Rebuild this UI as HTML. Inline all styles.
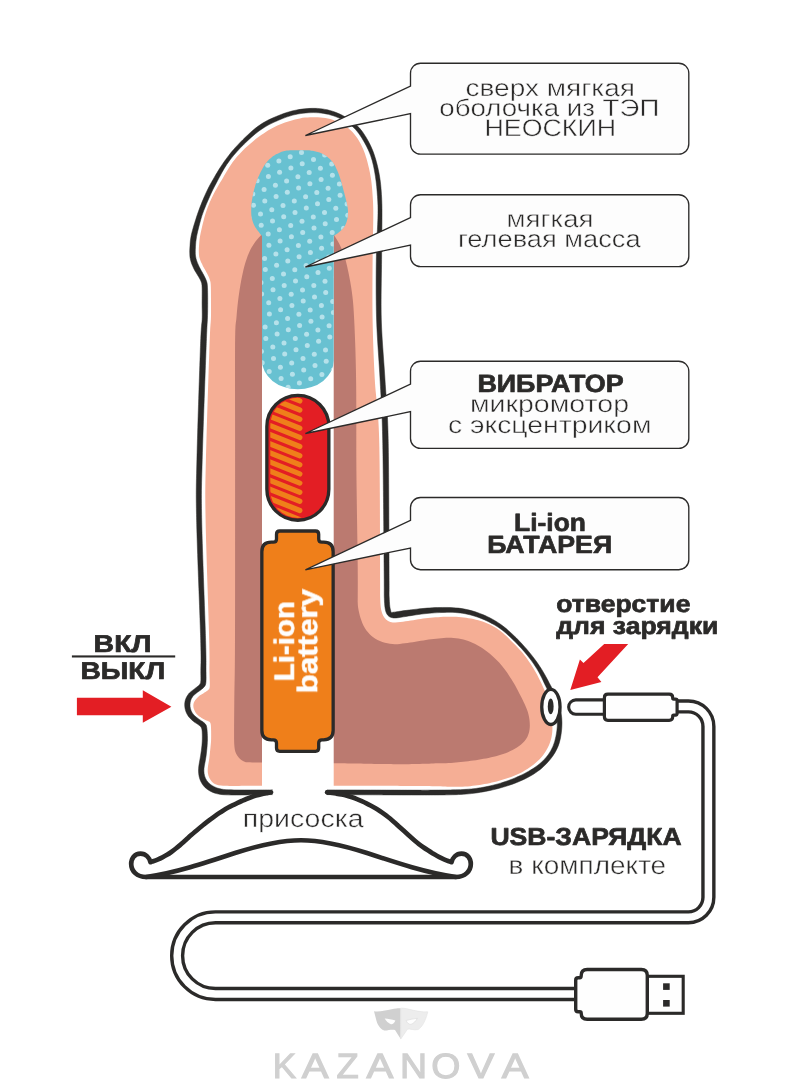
<!DOCTYPE html>
<html><head><meta charset="utf-8"><title>diagram</title>
<style>
html,body{margin:0;padding:0;background:#FFFFFF;}
body{width:802px;height:1080px;overflow:hidden;}
svg{display:block;font-family:"Liberation Sans",sans-serif;}
text{text-rendering:geometricPrecision;will-change:transform;}
</style></head><body>
<svg width="802" height="1080" viewBox="0 0 802 1080">
<defs>
<clipPath id="tealclip"><path d="M 262.00 236.00 C 261.82 235.79 261.34 235.25 260.92 234.75 C 260.51 234.25 259.97 233.59 259.51 233.02 C 259.06 232.45 258.62 231.87 258.20 231.31 C 257.78 230.76 257.40 230.24 257.00 229.68 C 256.60 229.12 256.20 228.56 255.82 227.97 C 255.44 227.38 255.07 226.79 254.72 226.17 C 254.38 225.54 254.06 224.90 253.76 224.22 C 253.46 223.55 253.18 222.84 252.93 222.13 C 252.68 221.42 252.45 220.69 252.26 219.97 C 252.06 219.25 251.89 218.53 251.75 217.83 C 251.61 217.12 251.50 216.44 251.42 215.75 C 251.34 215.06 251.29 214.38 251.25 213.67 C 251.22 212.97 251.21 212.22 251.20 211.52 C 251.20 210.81 251.21 210.10 251.23 209.43 C 251.24 208.75 251.26 208.13 251.29 207.46 C 251.32 206.80 251.35 206.13 251.40 205.44 C 251.45 204.75 251.51 204.03 251.58 203.31 C 251.66 202.58 251.75 201.82 251.84 201.10 C 251.94 200.38 252.05 199.67 252.17 198.98 C 252.28 198.28 252.40 197.63 252.53 196.94 C 252.66 196.25 252.79 195.55 252.94 194.85 C 253.08 194.14 253.24 193.42 253.40 192.71 C 253.56 191.99 253.73 191.27 253.90 190.56 C 254.08 189.85 254.26 189.14 254.44 188.45 C 254.63 187.75 254.82 187.07 255.02 186.38 C 255.23 185.69 255.44 184.99 255.66 184.30 C 255.88 183.62 256.11 182.92 256.35 182.24 C 256.59 181.56 256.83 180.89 257.08 180.22 C 257.33 179.56 257.59 178.90 257.85 178.24 C 258.12 177.59 258.39 176.95 258.66 176.31 C 258.94 175.67 259.22 175.04 259.51 174.41 C 259.80 173.78 260.09 173.16 260.39 172.54 C 260.69 171.92 261.00 171.30 261.31 170.69 C 261.63 170.09 261.95 169.48 262.27 168.89 C 262.60 168.30 262.93 167.72 263.28 167.15 C 263.62 166.58 263.96 166.04 264.33 165.48 C 264.69 164.93 265.07 164.40 265.47 163.85 C 265.88 163.30 266.32 162.73 266.77 162.18 C 267.22 161.63 267.68 161.08 268.16 160.56 C 268.64 160.04 269.13 159.54 269.64 159.05 C 270.15 158.56 270.67 158.09 271.22 157.64 C 271.76 157.19 272.33 156.76 272.91 156.35 C 273.49 155.94 274.08 155.56 274.69 155.18 C 275.31 154.81 275.95 154.45 276.60 154.11 C 277.25 153.77 277.92 153.43 278.59 153.13 C 279.25 152.82 279.91 152.53 280.57 152.26 C 281.23 152.00 281.86 151.75 282.53 151.53 C 283.20 151.32 283.89 151.11 284.59 150.96 C 285.30 150.80 286.05 150.67 286.77 150.58 C 287.48 150.49 288.19 150.46 288.90 150.42 C 289.60 150.37 290.28 150.36 291.00 150.33 C 291.71 150.31 292.45 150.28 293.19 150.26 C 293.93 150.23 294.71 150.21 295.46 150.20 C 296.21 150.19 296.97 150.19 297.70 150.19 C 298.44 150.19 299.17 150.20 299.88 150.20 C 300.59 150.20 301.29 150.20 301.98 150.20 C 302.67 150.20 303.34 150.20 304.01 150.22 C 304.69 150.23 305.35 150.24 306.03 150.27 C 306.71 150.29 307.40 150.31 308.11 150.35 C 308.81 150.39 309.53 150.42 310.26 150.49 C 310.99 150.56 311.77 150.66 312.50 150.78 C 313.23 150.90 313.95 151.06 314.64 151.21 C 315.33 151.37 315.96 151.53 316.63 151.70 C 317.30 151.88 317.99 152.07 318.67 152.28 C 319.36 152.50 320.08 152.74 320.76 153.01 C 321.44 153.28 322.13 153.58 322.76 153.90 C 323.39 154.22 323.99 154.56 324.56 154.92 C 325.13 155.27 325.65 155.63 326.19 156.02 C 326.72 156.41 327.24 156.81 327.76 157.24 C 328.28 157.67 328.79 158.11 329.29 158.58 C 329.79 159.05 330.29 159.54 330.76 160.04 C 331.23 160.54 331.69 161.07 332.12 161.59 C 332.54 162.12 332.95 162.66 333.33 163.20 C 333.71 163.75 334.06 164.29 334.40 164.86 C 334.74 165.43 335.06 166.01 335.38 166.61 C 335.69 167.21 335.99 167.83 336.29 168.45 C 336.59 169.08 336.87 169.72 337.15 170.37 C 337.44 171.03 337.71 171.70 337.98 172.36 C 338.25 173.02 338.52 173.69 338.76 174.34 C 339.01 174.99 339.24 175.62 339.47 176.27 C 339.70 176.91 339.91 177.55 340.12 178.21 C 340.33 178.86 340.54 179.53 340.74 180.20 C 340.94 180.87 341.14 181.56 341.33 182.24 C 341.53 182.92 341.72 183.61 341.91 184.30 C 342.10 184.98 342.29 185.67 342.47 186.35 C 342.66 187.03 342.84 187.71 343.03 188.39 C 343.21 189.07 343.39 189.74 343.58 190.43 C 343.76 191.12 343.95 191.82 344.13 192.52 C 344.32 193.22 344.51 193.94 344.69 194.65 C 344.87 195.36 345.05 196.07 345.23 196.77 C 345.40 197.48 345.58 198.17 345.74 198.85 C 345.91 199.52 346.06 200.18 346.21 200.82 C 346.36 201.45 346.50 202.03 346.64 202.66 C 346.78 203.29 346.91 203.92 347.06 204.60 C 347.20 205.29 347.36 206.09 347.49 206.80 C 347.61 207.50 347.73 208.18 347.80 208.84 C 347.88 209.51 347.92 210.12 347.95 210.77 C 347.98 211.43 347.98 212.09 347.97 212.75 C 347.96 213.42 347.93 214.09 347.89 214.76 C 347.84 215.44 347.79 216.13 347.71 216.81 C 347.62 217.49 347.53 218.18 347.40 218.85 C 347.27 219.52 347.12 220.17 346.93 220.83 C 346.75 221.49 346.52 222.16 346.27 222.82 C 346.02 223.47 345.73 224.13 345.42 224.75 C 345.11 225.38 344.78 225.99 344.40 226.59 C 344.03 227.18 343.64 227.75 343.17 228.32 C 342.71 228.88 342.17 229.45 341.62 229.99 C 341.06 230.52 340.44 231.04 339.84 231.53 C 339.25 232.01 338.66 232.46 338.05 232.92 C 337.44 233.38 336.81 233.85 336.19 234.30 C 335.57 234.74 334.73 235.31 334.32 235.60 C 333.90 235.88 333.80 235.93 333.70 236.00 L 333.7 360.6 A 35.85 28.7 0 0 1 262 360.6 Z"/></clipPath>
<clipPath id="capclip"><rect x="270.3" y="397.8" width="55" height="120.1" rx="27.5"/></clipPath>
</defs>
<rect width="802" height="1080" fill="#FFFFFF"/>

<path d="M 333.70 785.70 C 333.20 785.70 331.82 785.70 330.68 785.70 C 329.55 785.70 328.23 785.70 326.88 785.70 C 325.53 785.70 324.09 785.70 322.56 785.70 C 321.04 785.70 319.41 785.70 317.72 785.70 C 316.03 785.70 314.25 785.70 312.44 785.70 C 310.63 785.70 308.74 785.70 306.83 785.70 C 304.93 785.70 302.97 785.70 301.01 785.70 C 299.05 785.70 297.05 785.70 295.07 785.70 C 293.09 785.70 291.09 785.70 289.12 785.70 C 287.15 785.70 285.19 785.70 283.27 785.70 C 281.36 785.70 279.46 785.70 277.63 785.70 C 275.80 785.70 274.02 785.70 272.30 785.70 C 270.58 785.70 268.99 785.70 267.33 785.70 C 265.66 785.70 264.12 785.70 262.32 785.70 C 260.52 785.71 258.54 785.71 256.55 785.72 C 254.56 785.73 252.38 785.75 250.36 785.77 C 248.34 785.78 246.33 785.81 244.43 785.83 C 242.52 785.85 240.69 785.87 238.94 785.88 C 237.18 785.90 235.51 785.92 233.91 785.92 C 232.32 785.93 230.82 785.94 229.38 785.92 C 227.93 785.91 226.66 785.92 225.26 785.86 C 223.85 785.79 222.48 785.78 220.95 785.53 C 219.41 785.29 217.53 784.99 216.06 784.38 C 214.58 783.77 213.22 782.94 212.11 781.88 C 211.00 780.82 210.08 779.47 209.38 778.02 C 208.68 776.58 208.17 774.88 207.91 773.22 C 207.65 771.57 207.70 769.79 207.80 768.09 C 207.91 766.39 208.28 764.71 208.54 763.03 C 208.79 761.34 209.11 759.66 209.34 757.97 C 209.57 756.27 209.74 754.56 209.92 752.85 C 210.10 751.14 210.27 749.44 210.44 747.70 C 210.61 745.96 210.84 743.67 210.95 742.41 C 211.05 741.16 211.05 740.89 211.08 740.16 C 211.11 739.43 211.12 738.75 211.13 738.04 C 211.14 737.33 211.15 736.62 211.15 735.88 C 211.15 735.13 211.15 734.35 211.14 733.58 C 211.14 732.81 211.13 732.01 211.11 731.25 C 211.10 730.49 211.08 729.73 211.06 729.02 C 211.03 728.31 211.01 727.62 210.97 727.00 C 210.94 726.37 210.96 725.94 210.85 725.28 C 210.75 724.61 210.67 723.61 210.36 723.00 C 210.06 722.39 209.53 721.98 209.02 721.61 C 208.52 721.23 207.94 721.03 207.32 720.74 C 206.70 720.46 205.94 720.20 205.28 719.90 C 204.63 719.60 203.99 719.27 203.37 718.94 C 202.76 718.62 202.19 718.30 201.60 717.95 C 201.00 717.59 200.37 717.22 199.81 716.83 C 199.24 716.43 198.71 716.03 198.19 715.56 C 197.67 715.08 197.15 714.52 196.69 713.96 C 196.23 713.40 195.79 712.79 195.41 712.19 C 195.03 711.58 194.70 711.00 194.41 710.35 C 194.12 709.70 193.85 708.98 193.67 708.29 C 193.50 707.60 193.38 706.91 193.34 706.20 C 193.31 705.49 193.34 704.77 193.48 704.04 C 193.63 703.31 193.92 702.50 194.23 701.81 C 194.54 701.13 194.94 700.51 195.33 699.95 C 195.73 699.38 196.13 698.91 196.59 698.41 C 197.05 697.90 197.57 697.38 198.09 696.92 C 198.61 696.46 199.14 696.03 199.70 695.62 C 200.26 695.22 200.85 694.87 201.44 694.50 C 202.04 694.14 202.67 693.79 203.25 693.43 C 203.84 693.07 204.36 692.75 204.96 692.36 C 205.55 691.96 206.24 691.51 206.81 691.09 C 207.38 690.66 207.94 690.23 208.37 689.79 C 208.80 689.34 209.16 688.94 209.39 688.41 C 209.62 687.88 209.68 687.27 209.75 686.60 C 209.82 685.93 209.80 684.98 209.80 684.37 C 209.81 683.76 209.80 683.43 209.79 682.92 C 209.78 682.41 209.76 681.90 209.75 681.34 C 209.73 680.78 209.70 680.19 209.68 679.56 C 209.66 678.93 209.63 678.27 209.60 677.56 C 209.58 676.85 209.55 676.10 209.53 675.30 C 209.50 674.51 209.48 673.61 209.46 672.79 C 209.44 671.98 209.42 671.09 209.41 670.42 C 209.40 669.74 209.40 669.23 209.39 668.74 C 209.39 668.26 209.39 668.14 209.39 667.50 C 209.40 666.86 209.42 665.83 209.43 664.92 C 209.45 664.01 209.48 663.23 209.49 662.05 C 209.50 660.87 209.51 659.62 209.50 657.83 C 209.49 656.04 209.46 653.69 209.43 651.31 C 209.39 648.94 209.32 645.85 209.28 643.59 C 209.23 641.33 209.18 639.42 209.14 637.76 C 209.10 636.10 209.06 634.99 209.02 633.64 C 208.99 632.29 208.95 631.02 208.91 629.63 C 208.87 628.25 208.82 626.81 208.78 625.32 C 208.73 623.84 208.68 622.30 208.63 620.72 C 208.58 619.14 208.53 617.51 208.48 615.85 C 208.42 614.19 208.37 612.49 208.31 610.76 C 208.26 609.03 208.20 607.26 208.14 605.47 C 208.08 603.68 208.02 601.86 207.96 600.02 C 207.90 598.18 207.84 596.32 207.78 594.44 C 207.72 592.57 207.66 590.67 207.59 588.76 C 207.53 586.86 207.47 584.94 207.41 583.02 C 207.34 581.10 207.28 579.17 207.22 577.24 C 207.16 575.32 207.09 573.39 207.03 571.47 C 206.97 569.55 206.91 567.63 206.85 565.72 C 206.79 563.82 206.73 561.92 206.67 560.05 C 206.62 558.17 206.56 556.30 206.50 554.47 C 206.45 552.63 206.39 550.81 206.34 549.02 C 206.29 547.23 206.24 545.46 206.19 543.73 C 206.14 542.00 206.09 540.29 206.04 538.64 C 206.00 536.98 205.96 535.35 205.92 533.77 C 205.87 532.19 205.84 530.66 205.80 529.17 C 205.76 527.67 205.73 526.29 205.70 524.78 C 205.67 523.27 205.64 521.82 205.61 520.11 C 205.57 518.39 205.54 516.38 205.50 514.46 C 205.47 512.54 205.44 510.44 205.41 508.59 C 205.38 506.74 205.36 504.98 205.34 503.35 C 205.32 501.71 205.31 500.22 205.30 498.76 C 205.29 497.31 205.28 495.97 205.28 494.64 C 205.28 493.31 205.28 492.05 205.29 490.76 C 205.30 489.48 205.31 488.24 205.33 486.93 C 205.34 485.62 205.36 484.33 205.39 482.93 C 205.41 481.53 205.44 480.11 205.47 478.55 C 205.51 477.00 205.54 475.37 205.58 473.60 C 205.62 471.83 205.67 469.86 205.72 467.93 C 205.76 466.01 205.81 463.86 205.85 462.04 C 205.90 460.22 205.93 458.57 205.97 456.99 C 206.01 455.41 206.05 454.07 206.08 452.57 C 206.12 451.08 206.16 449.60 206.20 448.04 C 206.25 446.48 206.29 444.88 206.34 443.23 C 206.38 441.59 206.43 439.89 206.48 438.17 C 206.53 436.45 206.58 434.69 206.64 432.90 C 206.69 431.11 206.74 429.29 206.80 427.44 C 206.86 425.60 206.91 423.73 206.97 421.84 C 207.03 419.96 207.09 418.05 207.15 416.13 C 207.21 414.21 207.27 412.28 207.33 410.34 C 207.39 408.41 207.45 406.46 207.52 404.51 C 207.58 402.57 207.64 400.62 207.71 398.68 C 207.77 396.74 207.83 394.79 207.90 392.87 C 207.96 390.94 208.02 389.02 208.09 387.12 C 208.15 385.22 208.21 383.33 208.27 381.47 C 208.34 379.61 208.40 377.77 208.46 375.95 C 208.52 374.14 208.58 372.35 208.64 370.60 C 208.70 368.85 208.76 367.13 208.81 365.45 C 208.87 363.78 208.93 362.13 208.98 360.54 C 209.04 358.95 209.09 357.39 209.14 355.90 C 209.19 354.40 209.24 352.95 209.29 351.56 C 209.34 350.17 209.39 348.87 209.43 347.56 C 209.48 346.25 209.51 345.21 209.57 343.70 C 209.63 342.18 209.68 340.59 209.77 338.47 C 209.86 336.36 209.99 333.21 210.10 331.00 C 210.21 328.79 210.34 326.61 210.44 325.18 C 210.54 323.75 210.61 323.31 210.68 322.41 C 210.75 321.52 210.81 320.93 210.86 319.83 C 210.91 318.73 210.96 317.27 210.99 315.80 C 211.02 314.33 211.02 312.47 211.03 311.03 C 211.03 309.58 211.02 308.12 211.01 307.13 C 211.01 306.13 211.00 305.76 211.00 305.08 C 211.00 304.40 211.00 303.74 211.00 303.06 C 210.99 302.38 210.99 301.70 210.99 300.99 C 210.99 300.28 210.99 299.55 210.98 298.81 C 210.98 298.08 210.98 297.32 210.97 296.58 C 210.97 295.83 210.96 295.07 210.96 294.34 C 210.95 293.61 210.94 292.87 210.94 292.17 C 210.93 291.46 210.92 290.77 210.91 290.12 C 210.90 289.46 210.89 288.84 210.87 288.25 C 210.86 287.66 210.85 287.26 210.82 286.60 C 210.80 285.93 210.76 285.02 210.71 284.28 C 210.65 283.53 210.58 282.74 210.49 282.14 C 210.39 281.54 210.29 281.23 210.14 280.70 C 209.98 280.16 209.79 279.54 209.57 278.93 C 209.35 278.32 209.10 277.68 208.81 277.03 C 208.52 276.37 208.17 275.67 207.85 275.01 C 207.53 274.35 207.19 273.69 206.86 273.07 C 206.53 272.45 206.22 271.88 205.88 271.27 C 205.53 270.65 205.16 270.00 204.80 269.37 C 204.45 268.74 204.09 268.11 203.75 267.48 C 203.41 266.86 203.10 266.28 202.78 265.63 C 202.45 264.99 202.11 264.29 201.79 263.62 C 201.48 262.96 201.17 262.30 200.90 261.65 C 200.62 261.01 200.37 260.40 200.14 259.77 C 199.91 259.14 199.70 258.51 199.52 257.86 C 199.35 257.21 199.22 257.04 199.10 255.89 C 198.98 254.74 198.82 252.62 198.81 250.94 C 198.80 249.26 198.93 247.48 199.03 245.80 C 199.13 244.12 199.20 242.59 199.39 240.88 C 199.58 239.16 199.86 237.28 200.17 235.53 C 200.47 233.78 200.84 232.12 201.22 230.38 C 201.61 228.64 202.04 226.85 202.47 225.08 C 202.90 223.30 203.35 221.49 203.82 219.74 C 204.28 218.00 204.75 216.29 205.27 214.59 C 205.79 212.89 206.35 211.18 206.93 209.54 C 207.51 207.90 208.12 206.34 208.76 204.77 C 209.40 203.20 210.07 201.66 210.76 200.12 C 211.45 198.57 212.18 197.01 212.92 195.49 C 213.67 193.97 214.44 192.46 215.24 190.99 C 216.03 189.51 216.85 188.10 217.69 186.66 C 218.53 185.22 219.40 183.81 220.27 182.35 C 221.14 180.89 222.03 179.40 222.92 177.88 C 223.80 176.37 224.69 174.79 225.60 173.25 C 226.50 171.71 227.40 170.14 228.34 168.64 C 229.28 167.13 230.24 165.65 231.24 164.22 C 232.24 162.78 233.26 161.41 234.32 160.05 C 235.38 158.69 236.46 157.39 237.60 156.07 C 238.75 154.75 239.95 153.42 241.19 152.13 C 242.43 150.83 243.72 149.55 245.03 148.30 C 246.35 147.05 247.72 145.83 249.08 144.64 C 250.45 143.45 251.85 142.29 253.23 141.16 C 254.62 140.03 256.01 138.92 257.40 137.86 C 258.79 136.79 260.17 135.76 261.57 134.77 C 262.97 133.78 264.35 132.83 265.80 131.91 C 267.24 131.00 268.71 130.11 270.24 129.26 C 271.76 128.41 273.35 127.60 274.97 126.82 C 276.58 126.04 278.25 125.29 279.91 124.59 C 281.58 123.89 283.28 123.23 284.96 122.62 C 286.64 122.01 288.32 121.46 289.99 120.95 C 291.67 120.44 293.33 119.98 294.99 119.55 C 296.66 119.13 298.32 118.72 299.99 118.39 C 301.66 118.06 303.33 117.76 305.02 117.56 C 306.71 117.36 308.41 117.24 310.12 117.17 C 311.83 117.11 313.56 117.12 315.27 117.16 C 316.98 117.20 318.68 117.28 320.37 117.42 C 322.06 117.57 323.75 117.74 325.39 118.02 C 327.04 118.30 328.66 118.65 330.26 119.10 C 331.86 119.56 333.43 120.12 335.00 120.74 C 336.57 121.36 338.13 122.07 339.69 122.84 C 341.25 123.61 342.84 124.42 344.34 125.36 C 345.84 126.29 347.35 127.33 348.71 128.45 C 350.06 129.56 351.28 130.77 352.45 132.03 C 353.61 133.30 354.67 134.66 355.70 136.04 C 356.73 137.42 357.71 138.87 358.61 140.32 C 359.51 141.76 360.35 143.22 361.12 144.69 C 361.89 146.17 362.56 147.64 363.20 149.16 C 363.84 150.68 364.41 152.24 364.96 153.82 C 365.50 155.39 366.01 157.00 366.48 158.60 C 366.96 160.19 367.39 161.77 367.81 163.39 C 368.23 165.01 368.62 166.65 368.99 168.31 C 369.36 169.96 369.72 171.64 370.03 173.32 C 370.35 175.00 370.64 176.68 370.90 178.37 C 371.16 180.06 371.38 181.77 371.58 183.47 C 371.78 185.18 371.94 186.90 372.09 188.60 C 372.24 190.29 372.36 192.00 372.48 193.63 C 372.60 195.26 372.71 196.86 372.81 198.38 C 372.90 199.90 372.99 201.24 373.06 202.76 C 373.12 204.27 373.18 205.78 373.21 207.47 C 373.25 209.16 373.27 211.16 373.28 212.88 C 373.29 214.61 373.28 216.29 373.27 217.83 C 373.26 219.38 373.24 220.69 373.22 222.16 C 373.20 223.63 373.18 225.09 373.15 226.64 C 373.12 228.18 373.09 229.79 373.06 231.44 C 373.02 233.09 372.99 234.79 372.96 236.53 C 372.92 238.27 372.89 240.06 372.85 241.87 C 372.82 243.68 372.79 245.53 372.76 247.40 C 372.73 249.26 372.70 251.19 372.68 253.04 C 372.65 254.90 372.63 256.79 372.62 258.54 C 372.60 260.29 372.59 261.91 372.58 263.53 C 372.56 265.14 372.55 266.65 372.54 268.23 C 372.53 269.82 372.52 271.40 372.51 273.01 C 372.50 274.63 372.48 276.27 372.47 277.93 C 372.46 279.58 372.45 281.26 372.45 282.95 C 372.44 284.63 372.43 286.34 372.43 288.05 C 372.42 289.76 372.42 291.49 372.41 293.21 C 372.41 294.94 372.41 296.67 372.41 298.40 C 372.42 300.14 372.42 301.87 372.43 303.60 C 372.44 305.33 372.45 307.06 372.46 308.78 C 372.48 310.50 372.49 312.21 372.51 313.91 C 372.54 315.61 372.56 317.30 372.59 318.98 C 372.62 320.66 372.65 322.33 372.68 324.00 C 372.72 325.67 372.75 327.33 372.79 329.00 C 372.83 330.67 372.88 332.33 372.92 334.00 C 372.97 335.67 373.01 337.33 373.06 339.00 C 373.11 340.67 373.17 342.33 373.22 344.00 C 373.28 345.67 373.33 347.33 373.39 349.00 C 373.45 350.67 373.52 352.33 373.58 354.00 C 373.65 355.67 373.71 357.33 373.78 359.00 C 373.85 360.67 373.93 362.33 374.00 364.00 C 374.08 365.67 374.16 367.33 374.24 369.00 C 374.32 370.67 374.40 372.34 374.49 374.00 C 374.57 375.65 374.66 377.33 374.75 378.95 C 374.85 380.57 374.95 382.18 375.05 383.71 C 375.16 385.24 375.27 386.71 375.39 388.14 C 375.50 389.57 375.63 390.93 375.76 392.28 C 375.89 393.63 376.02 394.93 376.16 396.25 C 376.29 397.57 376.43 398.86 376.57 400.19 C 376.71 401.53 376.85 402.86 377.00 404.25 C 377.14 405.64 377.28 407.06 377.42 408.56 C 377.55 410.06 377.69 411.60 377.82 413.25 C 377.96 414.90 378.09 416.62 378.21 418.47 C 378.33 420.32 378.45 422.28 378.56 424.36 C 378.67 426.44 378.78 428.75 378.87 430.95 C 378.96 433.14 379.05 435.56 379.11 437.54 C 379.18 439.51 379.22 441.20 379.26 442.79 C 379.30 444.38 379.33 445.64 379.36 447.08 C 379.38 448.51 379.41 449.92 379.43 451.41 C 379.46 452.90 379.48 454.44 379.50 456.02 C 379.53 457.60 379.55 459.23 379.57 460.89 C 379.59 462.55 379.61 464.25 379.63 465.98 C 379.65 467.71 379.66 469.48 379.68 471.28 C 379.70 473.07 379.71 474.90 379.73 476.75 C 379.74 478.60 379.76 480.47 379.77 482.36 C 379.78 484.25 379.80 486.17 379.81 488.09 C 379.82 490.02 379.83 491.96 379.84 493.91 C 379.85 495.86 379.86 497.83 379.87 499.79 C 379.88 501.76 379.89 503.74 379.90 505.71 C 379.91 507.68 379.91 509.66 379.92 511.63 C 379.93 513.60 379.93 515.57 379.94 517.52 C 379.95 519.48 379.95 521.43 379.96 523.37 C 379.96 525.30 379.97 527.23 379.97 529.13 C 379.98 531.04 379.98 532.93 379.99 534.79 C 379.99 536.66 379.99 538.50 380.00 540.31 C 380.00 542.13 380.00 543.92 380.01 545.67 C 380.01 547.43 380.01 549.16 380.02 550.84 C 380.02 552.53 380.02 554.18 380.03 555.79 C 380.03 557.40 380.03 558.97 380.04 560.49 C 380.04 562.01 380.04 563.49 380.05 564.92 C 380.05 566.34 380.05 567.72 380.06 569.04 C 380.06 570.36 380.07 571.57 380.07 572.84 C 380.07 574.10 380.08 575.04 380.08 576.63 C 380.09 578.22 380.10 580.12 380.10 582.36 C 380.11 584.60 380.12 588.09 380.11 590.06 C 380.11 592.03 380.10 593.13 380.10 594.16 C 380.10 595.20 380.11 595.24 380.13 596.25 C 380.16 597.27 380.19 598.76 380.26 600.26 C 380.33 601.77 380.38 603.60 380.54 605.28 C 380.71 606.95 380.87 608.66 381.27 610.32 C 381.67 611.99 382.15 613.75 382.94 615.28 C 383.73 616.81 384.77 618.37 386.01 619.49 C 387.25 620.62 388.83 621.53 390.37 622.05 C 391.91 622.56 393.60 622.57 395.26 622.58 C 396.93 622.59 398.65 622.30 400.37 622.09 C 402.09 621.89 403.86 621.61 405.57 621.36 C 407.28 621.10 408.95 620.83 410.64 620.56 C 412.33 620.29 414.03 620.01 415.70 619.75 C 417.38 619.48 419.05 619.23 420.69 618.99 C 422.33 618.75 423.91 618.52 425.54 618.31 C 427.17 618.10 428.80 617.90 430.46 617.73 C 432.13 617.56 433.83 617.41 435.53 617.28 C 437.23 617.15 438.93 617.05 440.66 616.95 C 442.39 616.86 444.16 616.78 445.90 616.72 C 447.64 616.67 449.39 616.62 451.11 616.63 C 452.82 616.63 454.52 616.66 456.20 616.74 C 457.89 616.82 459.58 616.96 461.23 617.13 C 462.88 617.30 464.47 617.53 466.08 617.78 C 467.70 618.02 469.31 618.31 470.94 618.62 C 472.58 618.94 474.24 619.26 475.90 619.65 C 477.55 620.04 479.23 620.46 480.87 620.97 C 482.50 621.47 484.12 622.05 485.70 622.69 C 487.29 623.33 488.83 624.05 490.36 624.82 C 491.88 625.58 493.39 626.41 494.84 627.28 C 496.29 628.14 497.71 629.04 499.07 629.99 C 500.42 630.95 501.71 631.95 502.96 633.01 C 504.22 634.08 505.39 635.21 506.59 636.36 C 507.79 637.52 508.97 638.74 510.17 639.93 C 511.36 641.13 512.54 642.31 513.74 643.53 C 514.95 644.74 516.17 645.96 517.37 647.23 C 518.58 648.49 519.80 649.80 520.97 651.12 C 522.14 652.44 523.28 653.80 524.38 655.17 C 525.47 656.55 526.53 657.96 527.56 659.39 C 528.59 660.82 529.59 662.28 530.55 663.75 C 531.52 665.22 532.46 666.69 533.37 668.19 C 534.27 669.68 535.16 671.19 536.01 672.72 C 536.86 674.25 537.68 675.83 538.47 677.38 C 539.26 678.93 540.00 680.48 540.74 682.02 C 541.47 683.56 542.17 685.07 542.89 686.63 C 543.60 688.19 544.35 689.79 545.04 691.37 C 545.73 692.96 546.42 694.56 547.02 696.15 C 547.63 697.75 548.18 699.33 548.67 700.94 C 549.16 702.55 549.58 704.15 549.96 705.80 C 550.34 707.45 550.66 709.12 550.95 710.82 C 551.23 712.51 551.47 714.24 551.67 715.97 C 551.88 717.71 552.05 719.47 552.17 721.22 C 552.30 722.97 552.41 724.74 552.43 726.47 C 552.45 728.20 552.43 729.91 552.30 731.61 C 552.16 733.31 551.94 735.02 551.61 736.67 C 551.28 738.32 550.84 739.92 550.32 741.52 C 549.79 743.11 549.18 744.69 548.47 746.25 C 547.75 747.81 546.95 749.38 546.05 750.87 C 545.15 752.37 544.14 753.83 543.07 755.21 C 542.00 756.59 540.84 757.89 539.62 759.16 C 538.40 760.43 537.08 761.65 535.75 762.81 C 534.43 763.96 533.06 765.06 531.66 766.10 C 530.27 767.14 528.86 768.10 527.39 769.03 C 525.92 769.96 524.39 770.85 522.86 771.67 C 521.33 772.50 519.77 773.26 518.23 773.97 C 516.68 774.68 515.16 775.31 513.59 775.94 C 512.02 776.56 510.41 777.15 508.80 777.71 C 507.19 778.28 505.54 778.82 503.92 779.33 C 502.30 779.84 500.70 780.31 499.10 780.76 C 497.50 781.21 495.92 781.63 494.31 782.02 C 492.71 782.42 491.08 782.79 489.45 783.13 C 487.82 783.48 486.14 783.80 484.52 784.10 C 482.90 784.39 481.30 784.66 479.74 784.91 C 478.17 785.16 476.71 785.39 475.14 785.59 C 473.58 785.80 472.03 785.98 470.34 786.14 C 468.66 786.30 466.79 786.44 465.04 786.54 C 463.28 786.64 461.41 786.71 459.81 786.76 C 458.21 786.81 456.83 786.81 455.45 786.82 C 454.06 786.82 452.83 786.80 451.48 786.77 C 450.14 786.75 448.80 786.71 447.38 786.67 C 445.95 786.63 444.48 786.58 442.91 786.53 C 441.33 786.48 439.69 786.42 437.90 786.37 C 436.12 786.32 434.21 786.26 432.21 786.22 C 430.21 786.17 427.95 786.12 425.91 786.09 C 423.87 786.05 421.77 786.03 419.97 786.01 C 418.17 785.99 416.69 785.98 415.11 785.97 C 413.52 785.95 412.07 785.95 410.46 785.94 C 408.86 785.93 407.19 785.92 405.47 785.91 C 403.75 785.90 401.95 785.89 400.12 785.89 C 398.30 785.88 396.41 785.87 394.50 785.86 C 392.59 785.86 390.64 785.85 388.68 785.84 C 386.72 785.84 384.73 785.83 382.74 785.82 C 380.75 785.82 378.75 785.81 376.76 785.81 C 374.77 785.80 372.78 785.80 370.81 785.79 C 368.85 785.79 366.89 785.78 364.98 785.78 C 363.07 785.77 361.18 785.77 359.34 785.76 C 357.51 785.76 355.70 785.75 353.97 785.75 C 352.24 785.75 350.56 785.74 348.95 785.74 C 347.35 785.74 345.81 785.73 344.36 785.73 C 342.91 785.72 341.56 785.72 340.27 785.72 C 338.98 785.72 337.73 785.71 336.64 785.71 C 335.54 785.71 334.19 785.70 333.70 785.70 Z" fill="#F5AE95"/>
<path d="M 264.00 232.00 C 263.48 232.60 261.96 234.37 260.86 235.59 C 259.75 236.81 258.50 238.02 257.38 239.32 C 256.25 240.62 255.12 241.98 254.12 243.38 C 253.13 244.79 252.24 246.24 251.42 247.74 C 250.59 249.25 249.85 250.83 249.15 252.40 C 248.45 253.98 247.82 255.58 247.22 257.18 C 246.63 258.78 246.11 260.36 245.60 262.00 C 245.09 263.65 244.62 265.34 244.17 267.04 C 243.73 268.73 243.31 270.45 242.93 272.16 C 242.54 273.87 242.19 275.56 241.84 277.29 C 241.50 279.01 241.17 280.78 240.85 282.52 C 240.54 284.27 240.24 286.02 239.96 287.76 C 239.67 289.49 239.40 291.23 239.15 292.95 C 238.90 294.68 238.66 296.41 238.44 298.10 C 238.22 299.79 238.02 301.45 237.83 303.09 C 237.64 304.72 237.46 306.32 237.30 307.94 C 237.13 309.55 236.98 311.20 236.84 312.77 C 236.70 314.35 236.58 316.04 236.46 317.39 C 236.34 318.74 236.23 319.91 236.12 320.87 C 236.00 321.84 235.89 322.14 235.78 323.16 C 235.67 324.17 235.56 325.16 235.46 326.97 C 235.37 328.78 235.28 331.72 235.22 334.02 C 235.16 336.33 235.13 338.96 235.11 340.79 C 235.08 342.61 235.08 343.70 235.07 344.98 C 235.06 346.25 235.06 347.27 235.05 348.45 C 235.04 349.63 235.04 350.83 235.04 352.07 C 235.03 353.32 235.03 354.60 235.03 355.91 C 235.02 357.22 235.02 358.57 235.02 359.95 C 235.02 361.33 235.02 362.74 235.02 364.19 C 235.02 365.63 235.02 367.10 235.02 368.61 C 235.02 370.11 235.02 371.64 235.02 373.20 C 235.02 374.76 235.02 376.35 235.02 377.97 C 235.02 379.59 235.02 381.23 235.02 382.90 C 235.02 384.56 235.03 386.26 235.03 387.97 C 235.03 389.69 235.03 391.43 235.04 393.19 C 235.04 394.95 235.04 396.74 235.04 398.54 C 235.05 400.35 235.05 402.18 235.05 404.02 C 235.05 405.87 235.06 407.73 235.06 409.62 C 235.06 411.50 235.07 413.40 235.07 415.32 C 235.07 417.24 235.07 419.17 235.08 421.12 C 235.08 423.07 235.08 425.03 235.08 427.01 C 235.09 428.99 235.09 430.98 235.09 432.98 C 235.09 434.99 235.09 437.00 235.09 439.03 C 235.10 441.05 235.10 443.10 235.10 445.14 C 235.10 447.18 235.10 449.27 235.10 451.28 C 235.10 453.29 235.10 455.35 235.10 457.20 C 235.10 459.05 235.10 460.75 235.10 462.37 C 235.10 463.99 235.10 465.42 235.10 466.94 C 235.10 468.45 235.10 469.94 235.10 471.47 C 235.10 473.01 235.10 474.57 235.10 476.16 C 235.10 477.74 235.10 479.35 235.10 480.98 C 235.10 482.61 235.10 484.26 235.10 485.94 C 235.10 487.61 235.10 489.30 235.10 491.01 C 235.10 492.72 235.10 494.45 235.10 496.20 C 235.10 497.94 235.10 499.71 235.10 501.48 C 235.10 503.26 235.10 505.05 235.10 506.85 C 235.10 508.65 235.10 510.47 235.10 512.29 C 235.10 514.12 235.10 515.95 235.10 517.80 C 235.10 519.64 235.10 521.50 235.10 523.35 C 235.10 525.21 235.10 527.08 235.10 528.95 C 235.10 530.82 235.10 532.70 235.10 534.57 C 235.10 536.45 235.10 538.33 235.10 540.21 C 235.10 542.09 235.10 543.98 235.09 545.86 C 235.09 547.74 235.09 549.62 235.09 551.49 C 235.09 553.37 235.09 555.24 235.09 557.11 C 235.09 558.98 235.09 560.84 235.09 562.70 C 235.09 564.56 235.09 566.41 235.09 568.25 C 235.09 570.09 235.09 571.92 235.09 573.74 C 235.09 575.56 235.09 577.37 235.09 579.17 C 235.08 580.97 235.08 582.75 235.08 584.52 C 235.08 586.29 235.08 588.05 235.08 589.78 C 235.08 591.52 235.08 593.25 235.08 594.95 C 235.07 596.65 235.07 598.34 235.07 600.00 C 235.07 601.67 235.07 603.31 235.07 604.93 C 235.06 606.56 235.06 608.16 235.06 609.73 C 235.06 611.31 235.06 612.86 235.05 614.38 C 235.05 615.91 235.05 617.41 235.05 618.88 C 235.05 620.35 235.04 621.79 235.04 623.20 C 235.04 624.61 235.04 625.99 235.03 627.34 C 235.03 628.69 235.03 630.00 235.02 631.30 C 235.02 632.59 235.02 633.74 235.01 635.12 C 235.01 636.49 235.01 637.71 235.00 639.53 C 234.99 641.34 234.98 643.63 234.97 646.00 C 234.96 648.38 234.95 651.28 234.93 653.76 C 234.91 656.25 234.89 658.70 234.87 660.91 C 234.86 663.12 234.83 665.13 234.81 667.01 C 234.79 668.89 234.77 670.59 234.75 672.20 C 234.72 673.81 234.70 675.27 234.68 676.67 C 234.65 678.06 234.63 679.34 234.61 680.59 C 234.58 681.84 234.56 683.00 234.54 684.16 C 234.52 685.32 234.49 686.41 234.47 687.55 C 234.45 688.68 234.43 689.77 234.41 690.94 C 234.39 692.10 234.38 693.25 234.36 694.54 C 234.34 695.82 234.33 697.13 234.31 698.66 C 234.30 700.18 234.29 701.90 234.27 703.68 C 234.25 705.47 234.24 707.45 234.22 709.36 C 234.21 711.26 234.19 713.22 234.17 715.12 C 234.16 717.01 234.14 718.90 234.13 720.73 C 234.12 722.57 234.10 724.37 234.10 726.11 C 234.09 727.85 234.08 729.55 234.08 731.17 C 234.08 732.79 234.08 734.34 234.08 735.82 C 234.09 737.30 234.09 738.61 234.12 740.05 C 234.15 741.49 234.15 742.88 234.27 744.46 C 234.38 746.03 234.49 747.93 234.81 749.49 C 235.13 751.05 235.51 752.47 236.19 753.83 C 236.87 755.19 237.75 756.44 238.90 757.66 C 240.05 758.87 241.94 760.36 243.09 761.12 C 244.24 761.88 245.35 762.02 245.80 762.20 C 246.16 762.22 246.85 762.26 247.94 762.29 C 249.04 762.33 250.60 762.38 252.39 762.42 C 254.18 762.46 256.69 762.51 258.68 762.54 C 260.66 762.58 262.66 762.60 264.31 762.62 C 265.96 762.64 267.15 762.65 268.57 762.66 C 269.99 762.68 271.34 762.69 272.82 762.70 C 274.30 762.71 275.85 762.72 277.45 762.74 C 279.05 762.75 280.72 762.76 282.42 762.77 C 284.12 762.79 285.87 762.80 287.65 762.81 C 289.43 762.82 291.26 762.84 293.09 762.85 C 294.93 762.86 296.80 762.88 298.68 762.89 C 300.56 762.91 302.45 762.92 304.35 762.93 C 306.24 762.95 308.14 762.96 310.03 762.98 C 311.91 762.99 313.80 763.01 315.66 763.02 C 317.52 763.04 319.37 763.06 321.18 763.07 C 323.00 763.09 324.78 763.11 326.53 763.12 C 328.29 763.14 329.99 763.16 331.72 763.18 C 333.45 763.20 335.16 763.22 336.90 763.24 C 338.65 763.27 340.42 763.29 342.19 763.32 C 343.97 763.34 345.77 763.37 347.56 763.40 C 349.35 763.43 351.15 763.46 352.95 763.49 C 354.75 763.53 356.55 763.56 358.34 763.59 C 360.12 763.62 361.91 763.66 363.68 763.69 C 365.45 763.72 367.22 763.75 368.96 763.79 C 370.71 763.82 372.44 763.85 374.14 763.88 C 375.85 763.91 377.54 763.94 379.20 763.97 C 380.85 763.99 382.49 764.02 384.09 764.04 C 385.69 764.07 387.26 764.09 388.79 764.11 C 390.32 764.12 391.79 764.14 393.29 764.15 C 394.79 764.17 396.18 764.18 397.80 764.18 C 399.42 764.19 401.17 764.19 403.02 764.19 C 404.87 764.18 406.99 764.17 408.92 764.15 C 410.86 764.14 412.81 764.11 414.63 764.08 C 416.45 764.05 418.17 764.01 419.83 763.97 C 421.50 763.93 423.07 763.89 424.61 763.84 C 426.15 763.80 427.60 763.75 429.06 763.70 C 430.52 763.65 431.87 763.60 433.37 763.55 C 434.87 763.49 436.40 763.44 438.06 763.37 C 439.72 763.31 441.61 763.24 443.35 763.17 C 445.10 763.09 446.87 763.01 448.53 762.92 C 450.20 762.83 451.74 762.74 453.34 762.63 C 454.94 762.52 456.49 762.39 458.12 762.25 C 459.75 762.10 461.43 761.94 463.13 761.76 C 464.82 761.58 466.56 761.38 468.28 761.17 C 469.99 760.96 471.72 760.73 473.42 760.49 C 475.12 760.25 476.79 760.00 478.47 759.73 C 480.16 759.46 481.82 759.18 483.50 758.87 C 485.18 758.57 486.89 758.24 488.56 757.90 C 490.23 757.56 491.89 757.21 493.52 756.82 C 495.14 756.44 496.71 756.05 498.30 755.60 C 499.90 755.14 501.48 754.65 503.09 754.09 C 504.71 753.53 506.38 752.90 507.97 752.23 C 509.56 751.56 511.12 750.85 512.62 750.07 C 514.13 749.29 515.57 748.47 516.98 747.54 C 518.39 746.61 519.81 745.58 521.09 744.49 C 522.36 743.39 523.59 742.22 524.63 740.97 C 525.67 739.71 526.59 738.38 527.33 736.94 C 528.06 735.51 528.64 733.96 529.05 732.36 C 529.46 730.76 529.67 729.06 529.78 727.34 C 529.88 725.63 529.81 723.82 529.68 722.06 C 529.55 720.31 529.31 718.52 528.99 716.82 C 528.67 715.12 528.26 713.47 527.76 711.85 C 527.26 710.24 526.65 708.70 526.00 707.13 C 525.35 705.56 524.62 704.03 523.87 702.43 C 523.12 700.84 522.29 699.18 521.49 697.59 C 520.69 696.00 519.89 694.45 519.08 692.90 C 518.27 691.35 517.48 689.84 516.64 688.29 C 515.80 686.75 514.92 685.15 514.02 683.61 C 513.13 682.08 512.21 680.55 511.28 679.08 C 510.36 677.60 509.44 676.18 508.49 674.76 C 507.54 673.35 506.57 671.94 505.57 670.56 C 504.56 669.18 503.53 667.81 502.46 666.48 C 501.39 665.16 500.28 663.87 499.13 662.61 C 497.98 661.36 496.78 660.14 495.56 658.95 C 494.34 657.76 493.07 656.61 491.80 655.50 C 490.53 654.39 489.25 653.32 487.93 652.29 C 486.61 651.26 485.27 650.26 483.88 649.30 C 482.49 648.34 481.04 647.40 479.59 646.54 C 478.14 645.67 476.67 644.85 475.18 644.11 C 473.69 643.36 472.20 642.67 470.65 642.04 C 469.10 641.41 467.50 640.83 465.89 640.32 C 464.27 639.82 462.61 639.38 460.96 639.02 C 459.32 638.66 457.66 638.37 456.03 638.16 C 454.39 637.96 452.78 637.83 451.16 637.77 C 449.53 637.71 447.92 637.74 446.27 637.80 C 444.62 637.86 442.91 638.00 441.24 638.14 C 439.56 638.28 437.90 638.46 436.22 638.65 C 434.54 638.85 432.87 639.08 431.17 639.31 C 429.46 639.55 427.72 639.81 425.99 640.07 C 424.25 640.33 422.52 640.59 420.76 640.86 C 419.01 641.13 417.23 641.41 415.44 641.69 C 413.66 641.98 411.83 642.28 410.07 642.56 C 408.31 642.84 406.60 643.12 404.90 643.35 C 403.19 643.58 401.54 643.81 399.86 643.95 C 398.18 644.08 396.47 644.20 394.81 644.18 C 393.14 644.15 391.52 644.04 389.87 643.80 C 388.21 643.57 386.52 643.21 384.86 642.76 C 383.20 642.32 381.50 641.77 379.91 641.11 C 378.32 640.44 376.78 639.67 375.34 638.79 C 373.90 637.90 372.54 636.88 371.28 635.77 C 370.02 634.66 368.86 633.44 367.78 632.12 C 366.71 630.81 365.72 629.40 364.83 627.91 C 363.93 626.42 363.12 624.83 362.40 623.18 C 361.69 621.54 361.08 619.80 360.53 618.05 C 359.98 616.30 359.54 614.51 359.13 612.69 C 358.72 610.87 358.32 608.91 358.08 607.13 C 357.84 605.35 357.76 602.85 357.70 602.00 C 357.70 601.55 357.71 600.28 357.71 599.28 C 357.72 598.29 357.73 597.20 357.74 596.03 C 357.74 594.86 357.75 593.63 357.76 592.25 C 357.77 590.86 357.78 589.38 357.78 587.72 C 357.79 586.05 357.79 584.25 357.79 582.27 C 357.79 580.29 357.78 578.05 357.77 575.82 C 357.76 573.60 357.74 571.03 357.73 568.94 C 357.71 566.85 357.70 564.93 357.68 563.27 C 357.66 561.61 357.65 560.38 357.63 558.97 C 357.61 557.56 357.60 556.25 357.58 554.83 C 357.56 553.42 357.54 551.96 357.52 550.46 C 357.50 548.97 357.47 547.43 357.45 545.86 C 357.43 544.29 357.40 542.68 357.38 541.04 C 357.36 539.41 357.33 537.74 357.30 536.05 C 357.28 534.35 357.25 532.63 357.22 530.90 C 357.20 529.16 357.17 527.40 357.14 525.62 C 357.12 523.85 357.09 522.05 357.06 520.25 C 357.03 518.45 357.00 516.63 356.98 514.80 C 356.95 512.98 356.92 511.15 356.89 509.32 C 356.87 507.49 356.84 505.65 356.81 503.82 C 356.79 501.98 356.76 500.15 356.74 498.33 C 356.71 496.50 356.68 494.68 356.66 492.87 C 356.64 491.07 356.61 489.27 356.59 487.49 C 356.57 485.71 356.55 483.94 356.53 482.20 C 356.51 480.46 356.49 478.74 356.47 477.03 C 356.45 475.32 356.44 473.65 356.42 471.96 C 356.40 470.27 356.39 468.58 356.38 466.87 C 356.37 465.16 356.35 463.43 356.34 461.69 C 356.34 459.96 356.33 458.21 356.32 456.46 C 356.31 454.71 356.31 452.95 356.30 451.20 C 356.30 449.44 356.30 447.68 356.29 445.92 C 356.29 444.16 356.29 442.39 356.29 440.63 C 356.29 438.88 356.29 437.12 356.29 435.36 C 356.29 433.61 356.29 431.86 356.29 430.11 C 356.29 428.37 356.29 426.63 356.29 424.90 C 356.29 423.17 356.29 421.45 356.29 419.74 C 356.29 418.03 356.29 416.32 356.29 414.64 C 356.29 412.95 356.28 411.27 356.28 409.61 C 356.28 407.95 356.28 406.30 356.27 404.67 C 356.27 403.04 356.27 401.42 356.26 399.83 C 356.25 398.24 356.25 396.66 356.24 395.10 C 356.23 393.55 356.22 392.02 356.21 390.50 C 356.20 388.99 356.19 387.53 356.17 386.02 C 356.15 384.50 356.14 383.06 356.11 381.41 C 356.09 379.76 356.07 377.99 356.03 376.14 C 356.00 374.29 355.97 372.26 355.93 370.32 C 355.89 368.38 355.85 366.42 355.80 364.52 C 355.76 362.62 355.71 360.75 355.67 358.92 C 355.62 357.08 355.57 355.28 355.52 353.52 C 355.47 351.76 355.41 350.03 355.36 348.33 C 355.30 346.64 355.25 344.98 355.19 343.35 C 355.13 341.73 355.07 340.14 355.01 338.58 C 354.96 337.03 354.89 335.51 354.83 334.02 C 354.77 332.53 354.71 331.09 354.65 329.67 C 354.59 328.24 354.53 326.91 354.46 325.48 C 354.39 324.05 354.33 322.70 354.25 321.09 C 354.17 319.47 354.07 317.61 353.97 315.78 C 353.87 313.96 353.76 311.92 353.64 310.14 C 353.53 308.36 353.41 306.68 353.29 305.10 C 353.16 303.51 353.04 302.08 352.89 300.61 C 352.75 299.15 352.60 297.77 352.42 296.30 C 352.24 294.82 352.05 293.35 351.83 291.77 C 351.60 290.19 351.36 288.53 351.09 286.83 C 350.81 285.13 350.51 283.35 350.20 281.58 C 349.88 279.82 349.54 278.00 349.20 276.24 C 348.85 274.48 348.49 272.71 348.13 271.02 C 347.77 269.34 347.42 267.72 347.05 266.11 C 346.67 264.50 346.32 262.99 345.89 261.37 C 345.46 259.74 344.97 258.00 344.45 256.35 C 343.93 254.70 343.35 253.01 342.76 251.48 C 342.17 249.95 341.60 248.60 340.92 247.15 C 340.24 245.69 339.50 244.24 338.69 242.75 C 337.87 241.26 336.97 239.74 336.03 238.21 C 335.09 236.68 333.71 234.60 333.04 233.57 C 332.37 232.53 332.17 232.26 332.00 232.00 Z" fill="#BB7A70"/>
<rect x="262" y="236" width="71.7" height="553" fill="#FFFFFF"/>
<path d="M 262.00 236.00 C 261.82 235.79 261.34 235.25 260.92 234.75 C 260.51 234.25 259.97 233.59 259.51 233.02 C 259.06 232.45 258.62 231.87 258.20 231.31 C 257.78 230.76 257.40 230.24 257.00 229.68 C 256.60 229.12 256.20 228.56 255.82 227.97 C 255.44 227.38 255.07 226.79 254.72 226.17 C 254.38 225.54 254.06 224.90 253.76 224.22 C 253.46 223.55 253.18 222.84 252.93 222.13 C 252.68 221.42 252.45 220.69 252.26 219.97 C 252.06 219.25 251.89 218.53 251.75 217.83 C 251.61 217.12 251.50 216.44 251.42 215.75 C 251.34 215.06 251.29 214.38 251.25 213.67 C 251.22 212.97 251.21 212.22 251.20 211.52 C 251.20 210.81 251.21 210.10 251.23 209.43 C 251.24 208.75 251.26 208.13 251.29 207.46 C 251.32 206.80 251.35 206.13 251.40 205.44 C 251.45 204.75 251.51 204.03 251.58 203.31 C 251.66 202.58 251.75 201.82 251.84 201.10 C 251.94 200.38 252.05 199.67 252.17 198.98 C 252.28 198.28 252.40 197.63 252.53 196.94 C 252.66 196.25 252.79 195.55 252.94 194.85 C 253.08 194.14 253.24 193.42 253.40 192.71 C 253.56 191.99 253.73 191.27 253.90 190.56 C 254.08 189.85 254.26 189.14 254.44 188.45 C 254.63 187.75 254.82 187.07 255.02 186.38 C 255.23 185.69 255.44 184.99 255.66 184.30 C 255.88 183.62 256.11 182.92 256.35 182.24 C 256.59 181.56 256.83 180.89 257.08 180.22 C 257.33 179.56 257.59 178.90 257.85 178.24 C 258.12 177.59 258.39 176.95 258.66 176.31 C 258.94 175.67 259.22 175.04 259.51 174.41 C 259.80 173.78 260.09 173.16 260.39 172.54 C 260.69 171.92 261.00 171.30 261.31 170.69 C 261.63 170.09 261.95 169.48 262.27 168.89 C 262.60 168.30 262.93 167.72 263.28 167.15 C 263.62 166.58 263.96 166.04 264.33 165.48 C 264.69 164.93 265.07 164.40 265.47 163.85 C 265.88 163.30 266.32 162.73 266.77 162.18 C 267.22 161.63 267.68 161.08 268.16 160.56 C 268.64 160.04 269.13 159.54 269.64 159.05 C 270.15 158.56 270.67 158.09 271.22 157.64 C 271.76 157.19 272.33 156.76 272.91 156.35 C 273.49 155.94 274.08 155.56 274.69 155.18 C 275.31 154.81 275.95 154.45 276.60 154.11 C 277.25 153.77 277.92 153.43 278.59 153.13 C 279.25 152.82 279.91 152.53 280.57 152.26 C 281.23 152.00 281.86 151.75 282.53 151.53 C 283.20 151.32 283.89 151.11 284.59 150.96 C 285.30 150.80 286.05 150.67 286.77 150.58 C 287.48 150.49 288.19 150.46 288.90 150.42 C 289.60 150.37 290.28 150.36 291.00 150.33 C 291.71 150.31 292.45 150.28 293.19 150.26 C 293.93 150.23 294.71 150.21 295.46 150.20 C 296.21 150.19 296.97 150.19 297.70 150.19 C 298.44 150.19 299.17 150.20 299.88 150.20 C 300.59 150.20 301.29 150.20 301.98 150.20 C 302.67 150.20 303.34 150.20 304.01 150.22 C 304.69 150.23 305.35 150.24 306.03 150.27 C 306.71 150.29 307.40 150.31 308.11 150.35 C 308.81 150.39 309.53 150.42 310.26 150.49 C 310.99 150.56 311.77 150.66 312.50 150.78 C 313.23 150.90 313.95 151.06 314.64 151.21 C 315.33 151.37 315.96 151.53 316.63 151.70 C 317.30 151.88 317.99 152.07 318.67 152.28 C 319.36 152.50 320.08 152.74 320.76 153.01 C 321.44 153.28 322.13 153.58 322.76 153.90 C 323.39 154.22 323.99 154.56 324.56 154.92 C 325.13 155.27 325.65 155.63 326.19 156.02 C 326.72 156.41 327.24 156.81 327.76 157.24 C 328.28 157.67 328.79 158.11 329.29 158.58 C 329.79 159.05 330.29 159.54 330.76 160.04 C 331.23 160.54 331.69 161.07 332.12 161.59 C 332.54 162.12 332.95 162.66 333.33 163.20 C 333.71 163.75 334.06 164.29 334.40 164.86 C 334.74 165.43 335.06 166.01 335.38 166.61 C 335.69 167.21 335.99 167.83 336.29 168.45 C 336.59 169.08 336.87 169.72 337.15 170.37 C 337.44 171.03 337.71 171.70 337.98 172.36 C 338.25 173.02 338.52 173.69 338.76 174.34 C 339.01 174.99 339.24 175.62 339.47 176.27 C 339.70 176.91 339.91 177.55 340.12 178.21 C 340.33 178.86 340.54 179.53 340.74 180.20 C 340.94 180.87 341.14 181.56 341.33 182.24 C 341.53 182.92 341.72 183.61 341.91 184.30 C 342.10 184.98 342.29 185.67 342.47 186.35 C 342.66 187.03 342.84 187.71 343.03 188.39 C 343.21 189.07 343.39 189.74 343.58 190.43 C 343.76 191.12 343.95 191.82 344.13 192.52 C 344.32 193.22 344.51 193.94 344.69 194.65 C 344.87 195.36 345.05 196.07 345.23 196.77 C 345.40 197.48 345.58 198.17 345.74 198.85 C 345.91 199.52 346.06 200.18 346.21 200.82 C 346.36 201.45 346.50 202.03 346.64 202.66 C 346.78 203.29 346.91 203.92 347.06 204.60 C 347.20 205.29 347.36 206.09 347.49 206.80 C 347.61 207.50 347.73 208.18 347.80 208.84 C 347.88 209.51 347.92 210.12 347.95 210.77 C 347.98 211.43 347.98 212.09 347.97 212.75 C 347.96 213.42 347.93 214.09 347.89 214.76 C 347.84 215.44 347.79 216.13 347.71 216.81 C 347.62 217.49 347.53 218.18 347.40 218.85 C 347.27 219.52 347.12 220.17 346.93 220.83 C 346.75 221.49 346.52 222.16 346.27 222.82 C 346.02 223.47 345.73 224.13 345.42 224.75 C 345.11 225.38 344.78 225.99 344.40 226.59 C 344.03 227.18 343.64 227.75 343.17 228.32 C 342.71 228.88 342.17 229.45 341.62 229.99 C 341.06 230.52 340.44 231.04 339.84 231.53 C 339.25 232.01 338.66 232.46 338.05 232.92 C 337.44 233.38 336.81 233.85 336.19 234.30 C 335.57 234.74 334.73 235.31 334.32 235.60 C 333.90 235.88 333.80 235.93 333.70 236.00 L 333.7 360.6 A 35.85 28.7 0 0 1 262 360.6 Z" fill="#68C1D1"/>
<g clip-path="url(#tealclip)" fill="#B5E1EA"><circle cx="246.6" cy="380.1" r="2.5"/><circle cx="247.3" cy="391.3" r="2.5"/><circle cx="250.2" cy="355.7" r="2.5"/><circle cx="250.9" cy="367.0" r="2.5"/><circle cx="257.9" cy="375.8" r="2.5"/><circle cx="258.6" cy="387.0" r="2.5"/><circle cx="246.1" cy="311.3" r="2.5"/><circle cx="246.8" cy="322.6" r="2.5"/><circle cx="253.8" cy="331.4" r="2.5"/><circle cx="254.5" cy="342.6" r="2.5"/><circle cx="261.5" cy="351.4" r="2.5"/><circle cx="262.2" cy="362.7" r="2.5"/><circle cx="269.2" cy="371.5" r="2.5"/><circle cx="269.9" cy="382.8" r="2.5"/><circle cx="276.9" cy="391.5" r="2.5"/><circle cx="249.7" cy="287.0" r="2.5"/><circle cx="250.4" cy="298.3" r="2.5"/><circle cx="257.4" cy="307.0" r="2.5"/><circle cx="258.1" cy="318.3" r="2.5"/><circle cx="265.1" cy="327.1" r="2.5"/><circle cx="265.8" cy="338.4" r="2.5"/><circle cx="272.8" cy="347.1" r="2.5"/><circle cx="273.5" cy="358.4" r="2.5"/><circle cx="280.4" cy="367.2" r="2.5"/><circle cx="281.1" cy="378.5" r="2.5"/><circle cx="288.1" cy="387.2" r="2.5"/><circle cx="245.6" cy="242.6" r="2.5"/><circle cx="246.3" cy="253.9" r="2.5"/><circle cx="253.3" cy="262.7" r="2.5"/><circle cx="254.0" cy="273.9" r="2.5"/><circle cx="261.0" cy="282.7" r="2.5"/><circle cx="261.7" cy="294.0" r="2.5"/><circle cx="268.7" cy="302.8" r="2.5"/><circle cx="269.4" cy="314.0" r="2.5"/><circle cx="276.4" cy="322.8" r="2.5"/><circle cx="277.1" cy="334.1" r="2.5"/><circle cx="284.0" cy="342.9" r="2.5"/><circle cx="284.7" cy="354.1" r="2.5"/><circle cx="291.7" cy="362.9" r="2.5"/><circle cx="292.4" cy="374.2" r="2.5"/><circle cx="299.4" cy="383.0" r="2.5"/><circle cx="249.2" cy="218.3" r="2.5"/><circle cx="249.9" cy="229.5" r="2.5"/><circle cx="256.9" cy="238.3" r="2.5"/><circle cx="257.6" cy="249.6" r="2.5"/><circle cx="264.6" cy="258.4" r="2.5"/><circle cx="265.3" cy="269.6" r="2.5"/><circle cx="272.3" cy="278.4" r="2.5"/><circle cx="273.0" cy="289.7" r="2.5"/><circle cx="279.9" cy="298.5" r="2.5"/><circle cx="280.6" cy="309.7" r="2.5"/><circle cx="287.6" cy="318.5" r="2.5"/><circle cx="288.3" cy="329.8" r="2.5"/><circle cx="295.3" cy="338.6" r="2.5"/><circle cx="296.0" cy="349.8" r="2.5"/><circle cx="303.0" cy="358.6" r="2.5"/><circle cx="303.7" cy="369.9" r="2.5"/><circle cx="310.7" cy="378.7" r="2.5"/><circle cx="311.4" cy="389.9" r="2.5"/><circle cx="245.1" cy="173.9" r="2.5"/><circle cx="245.8" cy="185.1" r="2.5"/><circle cx="252.8" cy="193.9" r="2.5"/><circle cx="253.5" cy="205.2" r="2.5"/><circle cx="260.5" cy="214.0" r="2.5"/><circle cx="261.2" cy="225.2" r="2.5"/><circle cx="268.2" cy="234.0" r="2.5"/><circle cx="268.9" cy="245.3" r="2.5"/><circle cx="275.9" cy="254.1" r="2.5"/><circle cx="276.6" cy="265.3" r="2.5"/><circle cx="283.5" cy="274.1" r="2.5"/><circle cx="284.2" cy="285.4" r="2.5"/><circle cx="291.2" cy="294.2" r="2.5"/><circle cx="291.9" cy="305.4" r="2.5"/><circle cx="298.9" cy="314.2" r="2.5"/><circle cx="299.6" cy="325.5" r="2.5"/><circle cx="306.6" cy="334.3" r="2.5"/><circle cx="307.3" cy="345.5" r="2.5"/><circle cx="314.3" cy="354.3" r="2.5"/><circle cx="315.0" cy="365.6" r="2.5"/><circle cx="321.9" cy="374.4" r="2.5"/><circle cx="322.6" cy="385.6" r="2.5"/><circle cx="248.7" cy="149.5" r="2.5"/><circle cx="249.4" cy="160.8" r="2.5"/><circle cx="256.4" cy="169.6" r="2.5"/><circle cx="257.1" cy="180.8" r="2.5"/><circle cx="264.1" cy="189.6" r="2.5"/><circle cx="264.8" cy="200.9" r="2.5"/><circle cx="271.8" cy="209.7" r="2.5"/><circle cx="272.5" cy="221.0" r="2.5"/><circle cx="279.4" cy="229.7" r="2.5"/><circle cx="280.1" cy="241.0" r="2.5"/><circle cx="287.1" cy="249.8" r="2.5"/><circle cx="287.8" cy="261.1" r="2.5"/><circle cx="294.8" cy="269.8" r="2.5"/><circle cx="295.5" cy="281.1" r="2.5"/><circle cx="302.5" cy="289.9" r="2.5"/><circle cx="303.2" cy="301.1" r="2.5"/><circle cx="310.2" cy="309.9" r="2.5"/><circle cx="310.9" cy="321.2" r="2.5"/><circle cx="317.9" cy="330.0" r="2.5"/><circle cx="318.6" cy="341.2" r="2.5"/><circle cx="325.5" cy="350.0" r="2.5"/><circle cx="326.2" cy="361.3" r="2.5"/><circle cx="333.2" cy="370.1" r="2.5"/><circle cx="333.9" cy="381.4" r="2.5"/><circle cx="340.9" cy="390.1" r="2.5"/><circle cx="260.0" cy="145.2" r="2.5"/><circle cx="260.7" cy="156.5" r="2.5"/><circle cx="267.7" cy="165.3" r="2.5"/><circle cx="268.4" cy="176.6" r="2.5"/><circle cx="275.4" cy="185.3" r="2.5"/><circle cx="276.1" cy="196.6" r="2.5"/><circle cx="283.0" cy="205.4" r="2.5"/><circle cx="283.7" cy="216.7" r="2.5"/><circle cx="290.7" cy="225.4" r="2.5"/><circle cx="291.4" cy="236.7" r="2.5"/><circle cx="298.4" cy="245.5" r="2.5"/><circle cx="299.1" cy="256.8" r="2.5"/><circle cx="306.1" cy="265.5" r="2.5"/><circle cx="306.8" cy="276.8" r="2.5"/><circle cx="313.8" cy="285.6" r="2.5"/><circle cx="314.5" cy="296.9" r="2.5"/><circle cx="321.4" cy="305.6" r="2.5"/><circle cx="322.1" cy="316.9" r="2.5"/><circle cx="329.1" cy="325.7" r="2.5"/><circle cx="329.8" cy="337.0" r="2.5"/><circle cx="336.8" cy="345.7" r="2.5"/><circle cx="337.5" cy="357.0" r="2.5"/><circle cx="344.5" cy="365.8" r="2.5"/><circle cx="345.2" cy="377.1" r="2.5"/><circle cx="352.2" cy="385.8" r="2.5"/><circle cx="272.0" cy="152.2" r="2.5"/><circle cx="278.9" cy="161.0" r="2.5"/><circle cx="279.6" cy="172.3" r="2.5"/><circle cx="286.6" cy="181.1" r="2.5"/><circle cx="287.3" cy="192.3" r="2.5"/><circle cx="294.3" cy="201.1" r="2.5"/><circle cx="295.0" cy="212.4" r="2.5"/><circle cx="302.0" cy="221.2" r="2.5"/><circle cx="302.7" cy="232.4" r="2.5"/><circle cx="309.7" cy="241.2" r="2.5"/><circle cx="310.4" cy="252.5" r="2.5"/><circle cx="317.3" cy="261.2" r="2.5"/><circle cx="318.0" cy="272.5" r="2.5"/><circle cx="325.0" cy="281.3" r="2.5"/><circle cx="325.7" cy="292.6" r="2.5"/><circle cx="332.7" cy="301.4" r="2.5"/><circle cx="333.4" cy="312.6" r="2.5"/><circle cx="340.4" cy="321.4" r="2.5"/><circle cx="341.1" cy="332.7" r="2.5"/><circle cx="348.1" cy="341.5" r="2.5"/><circle cx="348.8" cy="352.7" r="2.5"/><circle cx="283.2" cy="147.9" r="2.5"/><circle cx="290.2" cy="156.7" r="2.5"/><circle cx="290.9" cy="168.0" r="2.5"/><circle cx="297.9" cy="176.8" r="2.5"/><circle cx="298.6" cy="188.0" r="2.5"/><circle cx="305.6" cy="196.8" r="2.5"/><circle cx="306.3" cy="208.1" r="2.5"/><circle cx="313.3" cy="216.9" r="2.5"/><circle cx="314.0" cy="228.1" r="2.5"/><circle cx="320.9" cy="236.9" r="2.5"/><circle cx="321.6" cy="248.2" r="2.5"/><circle cx="328.6" cy="257.0" r="2.5"/><circle cx="329.3" cy="268.2" r="2.5"/><circle cx="336.3" cy="277.0" r="2.5"/><circle cx="337.0" cy="288.3" r="2.5"/><circle cx="344.0" cy="297.1" r="2.5"/><circle cx="344.7" cy="308.3" r="2.5"/><circle cx="351.7" cy="317.1" r="2.5"/><circle cx="352.4" cy="328.4" r="2.5"/><circle cx="301.5" cy="152.4" r="2.5"/><circle cx="302.2" cy="163.7" r="2.5"/><circle cx="309.2" cy="172.5" r="2.5"/><circle cx="309.9" cy="183.7" r="2.5"/><circle cx="316.8" cy="192.5" r="2.5"/><circle cx="317.5" cy="203.8" r="2.5"/><circle cx="324.5" cy="212.6" r="2.5"/><circle cx="325.2" cy="223.8" r="2.5"/><circle cx="332.2" cy="232.6" r="2.5"/><circle cx="332.9" cy="243.9" r="2.5"/><circle cx="339.9" cy="252.7" r="2.5"/><circle cx="340.6" cy="263.9" r="2.5"/><circle cx="347.6" cy="272.7" r="2.5"/><circle cx="348.3" cy="284.0" r="2.5"/><circle cx="312.8" cy="148.1" r="2.5"/><circle cx="313.5" cy="159.4" r="2.5"/><circle cx="320.4" cy="168.2" r="2.5"/><circle cx="321.1" cy="179.5" r="2.5"/><circle cx="328.1" cy="188.2" r="2.5"/><circle cx="328.8" cy="199.5" r="2.5"/><circle cx="335.8" cy="208.3" r="2.5"/><circle cx="336.5" cy="219.6" r="2.5"/><circle cx="343.5" cy="228.3" r="2.5"/><circle cx="344.2" cy="239.6" r="2.5"/><circle cx="351.2" cy="248.4" r="2.5"/><circle cx="351.9" cy="259.7" r="2.5"/><circle cx="324.7" cy="155.1" r="2.5"/><circle cx="331.7" cy="163.9" r="2.5"/><circle cx="332.4" cy="175.2" r="2.5"/><circle cx="339.4" cy="183.9" r="2.5"/><circle cx="340.1" cy="195.2" r="2.5"/><circle cx="347.1" cy="204.0" r="2.5"/><circle cx="347.8" cy="215.3" r="2.5"/><circle cx="336.0" cy="150.8" r="2.5"/><circle cx="343.0" cy="159.6" r="2.5"/><circle cx="343.7" cy="170.9" r="2.5"/><circle cx="350.7" cy="179.7" r="2.5"/><circle cx="351.4" cy="190.9" r="2.5"/><circle cx="347.3" cy="146.5" r="2.5"/></g>
<rect x="266.85" y="395.45" width="62" height="124.8" rx="31" fill="#E31E24" stroke="#2B2A29" stroke-width="3.3"/>
<g clip-path="url(#capclip)" stroke="#EF7F1A" stroke-width="5.3" stroke-linecap="round"><line x1="299.8" y1="391.8" x2="254.8" y2="373.8"/><line x1="299.8" y1="400.9" x2="254.8" y2="382.9"/><line x1="299.8" y1="410.0" x2="254.8" y2="392.0"/><line x1="299.8" y1="419.2" x2="254.8" y2="401.2"/><line x1="299.8" y1="428.3" x2="254.8" y2="410.3"/><line x1="299.8" y1="437.4" x2="254.8" y2="419.4"/><line x1="299.8" y1="446.5" x2="254.8" y2="428.5"/><line x1="299.8" y1="455.7" x2="254.8" y2="437.7"/><line x1="299.8" y1="464.8" x2="254.8" y2="446.8"/><line x1="299.8" y1="473.9" x2="254.8" y2="455.9"/><line x1="299.8" y1="483.1" x2="254.8" y2="465.1"/><line x1="299.8" y1="492.2" x2="254.8" y2="474.2"/><line x1="299.8" y1="501.3" x2="254.8" y2="483.3"/><line x1="299.8" y1="510.5" x2="254.8" y2="492.5"/><line x1="299.8" y1="519.6" x2="254.8" y2="501.6"/><line x1="299.8" y1="528.7" x2="254.8" y2="510.7"/></g>
<path d="M 279.7 531.0 H 315.5 Q 318.7 531.0 318.7 534.2 V 539.0 Q 318.7 542.2 321.9 542.2 H 323.65 Q 333.15 542.2 333.15 551.7 V 730.3 Q 333.15 739.8 323.65 739.8 H 321.9 Q 318.7 739.8 318.7 743.0 V 748.0999999999999 Q 318.7 751.3 315.5 751.3 H 279.7 Q 276.5 751.3 276.5 748.0999999999999 V 743.0 Q 276.5 739.8 273.3 739.8 H 271.35 Q 261.85 739.8 261.85 730.3 V 551.7 Q 261.85 542.2 271.35 542.2 H 273.3 Q 276.5 542.2 276.5 539.0 V 534.2 Q 276.5 531.0 279.7 531.0 Z" fill="#EF7F1A" stroke="#2B2A29" stroke-width="3.3" stroke-linejoin="round"/>
<g transform="translate(293.9 681.4) rotate(-90)"><text x="0" y="0" font-size="28" font-weight="bold" text-anchor="start" fill="#FEFEFE" textLength="80.4" lengthAdjust="spacingAndGlyphs" stroke="#FEFEFE" stroke-width="0.6">Li-ion</text></g>
<g transform="translate(317.1 693.4) rotate(-90)"><text x="0" y="0" font-size="28" font-weight="bold" text-anchor="start" fill="#FEFEFE" textLength="104.5" lengthAdjust="spacingAndGlyphs" stroke="#FEFEFE" stroke-width="0.6">battery</text></g>
<path d="M 272.50 794.60 C 271.94 794.61 270.46 794.62 269.14 794.64 C 267.82 794.66 266.19 794.68 264.55 794.71 C 262.91 794.73 261.15 794.76 259.31 794.78 C 257.48 794.81 255.50 794.84 253.55 794.86 C 251.59 794.89 249.55 794.91 247.59 794.93 C 245.63 794.96 243.64 794.98 241.78 794.99 C 239.92 795.00 238.16 795.02 236.43 795.02 C 234.70 795.02 233.16 795.02 231.41 795.00 C 229.67 794.97 227.74 794.94 225.96 794.85 C 224.19 794.76 222.35 794.67 220.75 794.46 C 219.15 794.24 217.84 793.99 216.34 793.56 C 214.85 793.13 213.28 792.59 211.76 791.88 C 210.25 791.17 208.64 790.33 207.25 789.30 C 205.87 788.27 204.56 787.06 203.47 785.71 C 202.37 784.37 201.42 782.81 200.69 781.23 C 199.95 779.65 199.43 777.92 199.07 776.22 C 198.71 774.51 198.57 772.73 198.53 771.01 C 198.49 769.29 198.65 767.59 198.84 765.91 C 199.03 764.23 199.38 762.61 199.67 760.94 C 199.96 759.28 200.29 757.61 200.57 755.91 C 200.84 754.20 201.10 752.47 201.33 750.72 C 201.56 748.97 201.78 747.03 201.93 745.42 C 202.09 743.81 202.18 742.17 202.24 741.07 C 202.30 739.98 202.30 739.60 202.31 738.84 C 202.32 738.08 202.33 737.29 202.32 736.50 C 202.32 735.71 202.31 734.89 202.28 734.12 C 202.26 733.35 202.23 732.57 202.18 731.87 C 202.14 731.17 202.11 730.57 202.00 729.91 C 201.90 729.25 201.79 728.48 201.53 727.89 C 201.28 727.31 200.91 726.84 200.49 726.39 C 200.06 725.93 199.53 725.55 199.00 725.16 C 198.48 724.77 197.92 724.43 197.34 724.04 C 196.75 723.66 196.08 723.27 195.48 722.86 C 194.87 722.46 194.28 722.03 193.71 721.59 C 193.15 721.15 192.62 720.69 192.10 720.21 C 191.57 719.73 191.04 719.24 190.54 718.74 C 190.05 718.23 189.58 717.74 189.14 717.19 C 188.69 716.64 188.26 716.06 187.86 715.44 C 187.47 714.83 187.08 714.15 186.74 713.49 C 186.41 712.82 186.12 712.14 185.87 711.44 C 185.61 710.75 185.40 710.04 185.23 709.30 C 185.06 708.57 184.93 707.80 184.84 707.05 C 184.75 706.30 184.70 705.53 184.70 704.80 C 184.69 704.06 184.73 703.35 184.82 702.65 C 184.90 701.95 185.04 701.26 185.21 700.60 C 185.37 699.93 185.57 699.29 185.83 698.64 C 186.09 697.98 186.38 697.31 186.75 696.66 C 187.11 696.00 187.55 695.32 188.02 694.69 C 188.49 694.05 189.05 693.41 189.56 692.87 C 190.07 692.34 190.56 691.92 191.09 691.46 C 191.62 691.01 192.20 690.58 192.76 690.16 C 193.32 689.73 193.85 689.34 194.43 688.90 C 195.00 688.46 195.61 687.99 196.23 687.51 C 196.85 687.03 197.58 686.52 198.16 686.03 C 198.74 685.53 199.28 685.11 199.69 684.56 C 200.09 684.00 200.41 683.35 200.60 682.69 C 200.79 682.02 200.79 681.16 200.83 680.58 C 200.88 680.00 200.87 679.69 200.88 679.19 C 200.88 678.70 200.88 678.22 200.88 677.64 C 200.87 677.05 200.86 676.42 200.85 675.68 C 200.84 674.93 200.83 674.00 200.82 673.15 C 200.82 672.30 200.81 671.29 200.81 670.58 C 200.80 669.87 200.81 669.35 200.81 668.87 C 200.81 668.39 200.81 668.30 200.83 667.68 C 200.84 667.07 200.88 666.08 200.90 665.19 C 200.93 664.29 200.97 663.49 200.99 662.29 C 201.00 661.09 201.02 659.81 201.02 657.99 C 201.01 656.17 200.98 653.78 200.94 651.38 C 200.90 648.99 200.83 645.88 200.78 643.61 C 200.73 641.34 200.68 639.42 200.63 637.76 C 200.58 636.10 200.55 635.00 200.50 633.64 C 200.46 632.29 200.42 631.02 200.37 629.63 C 200.33 628.25 200.28 626.81 200.22 625.32 C 200.17 623.84 200.12 622.30 200.06 620.72 C 200.01 619.14 199.95 617.51 199.89 615.85 C 199.83 614.19 199.76 612.49 199.70 610.76 C 199.64 609.03 199.57 607.26 199.50 605.47 C 199.44 603.68 199.37 601.86 199.30 600.02 C 199.23 598.18 199.16 596.32 199.09 594.44 C 199.02 592.57 198.95 590.67 198.88 588.76 C 198.81 586.86 198.74 584.94 198.67 583.02 C 198.60 581.10 198.53 579.17 198.45 577.24 C 198.38 575.32 198.31 573.39 198.24 571.47 C 198.17 569.55 198.10 567.63 198.03 565.72 C 197.97 563.82 197.90 561.92 197.83 560.05 C 197.76 558.17 197.70 556.30 197.64 554.47 C 197.57 552.63 197.51 550.81 197.45 549.02 C 197.39 547.23 197.33 545.46 197.27 543.73 C 197.22 542.00 197.16 540.29 197.11 538.64 C 197.06 536.98 197.01 535.35 196.96 533.77 C 196.92 532.19 196.87 530.66 196.83 529.17 C 196.79 527.67 196.75 526.29 196.72 524.78 C 196.68 523.27 196.64 521.82 196.61 520.11 C 196.57 518.39 196.53 516.38 196.49 514.46 C 196.45 512.54 196.41 510.44 196.38 508.59 C 196.35 506.74 196.33 504.98 196.31 503.35 C 196.28 501.71 196.27 500.22 196.26 498.76 C 196.25 497.31 196.24 495.97 196.24 494.64 C 196.24 493.31 196.25 492.05 196.26 490.76 C 196.27 489.48 196.28 488.24 196.30 486.93 C 196.32 485.62 196.34 484.33 196.37 482.93 C 196.40 481.53 196.43 480.11 196.46 478.55 C 196.50 477.00 196.54 475.37 196.58 473.60 C 196.62 471.83 196.67 469.86 196.71 467.93 C 196.76 466.01 196.81 463.86 196.85 462.04 C 196.90 460.22 196.93 458.57 196.97 456.99 C 197.01 455.41 197.04 454.07 197.08 452.57 C 197.12 451.08 197.16 449.60 197.20 448.04 C 197.24 446.48 197.29 444.88 197.33 443.23 C 197.38 441.59 197.43 439.89 197.48 438.17 C 197.53 436.45 197.58 434.69 197.63 432.90 C 197.68 431.11 197.74 429.29 197.79 427.44 C 197.85 425.60 197.90 423.73 197.96 421.84 C 198.02 419.96 198.08 418.05 198.14 416.13 C 198.19 414.21 198.26 412.28 198.32 410.34 C 198.38 408.41 198.44 406.46 198.50 404.51 C 198.56 402.57 198.63 400.62 198.69 398.68 C 198.75 396.74 198.81 394.79 198.88 392.87 C 198.94 390.94 199.00 389.02 199.06 387.12 C 199.13 385.22 199.19 383.33 199.25 381.47 C 199.31 379.61 199.38 377.77 199.44 375.95 C 199.50 374.14 199.56 372.35 199.62 370.60 C 199.68 368.85 199.74 367.13 199.79 365.45 C 199.85 363.78 199.91 362.13 199.96 360.54 C 200.02 358.95 200.07 357.39 200.13 355.90 C 200.18 354.40 200.23 352.95 200.28 351.56 C 200.33 350.17 200.37 348.87 200.42 347.56 C 200.47 346.25 200.50 345.21 200.56 343.70 C 200.62 342.18 200.68 340.59 200.78 338.47 C 200.88 336.36 201.03 333.21 201.16 331.00 C 201.30 328.79 201.46 326.61 201.58 325.18 C 201.71 323.75 201.82 323.31 201.91 322.41 C 202.00 321.52 202.08 320.93 202.13 319.82 C 202.19 318.71 202.23 317.24 202.24 315.76 C 202.26 314.27 202.23 312.38 202.21 310.93 C 202.19 309.48 202.15 308.04 202.13 307.05 C 202.11 306.07 202.11 305.71 202.11 305.02 C 202.10 304.34 202.10 303.65 202.10 302.94 C 202.10 302.23 202.11 301.50 202.11 300.76 C 202.11 300.01 202.12 299.24 202.12 298.48 C 202.13 297.72 202.14 296.94 202.14 296.18 C 202.14 295.42 202.15 294.65 202.15 293.92 C 202.15 293.19 202.15 292.46 202.15 291.78 C 202.15 291.10 202.15 290.44 202.14 289.83 C 202.14 289.22 202.14 288.80 202.12 288.11 C 202.10 287.43 202.07 286.47 202.01 285.72 C 201.96 284.98 201.89 284.27 201.77 283.65 C 201.64 283.04 201.49 282.64 201.27 282.06 C 201.05 281.47 200.78 280.78 200.46 280.12 C 200.14 279.45 199.73 278.73 199.35 278.06 C 198.98 277.38 198.58 276.70 198.21 276.07 C 197.83 275.44 197.48 274.89 197.09 274.27 C 196.71 273.66 196.29 273.01 195.90 272.36 C 195.50 271.71 195.11 271.05 194.74 270.39 C 194.38 269.73 194.04 269.07 193.71 268.39 C 193.38 267.72 193.06 267.03 192.76 266.34 C 192.45 265.65 192.15 264.95 191.89 264.26 C 191.62 263.57 191.37 262.89 191.15 262.20 C 190.93 261.51 190.73 260.81 190.56 260.11 C 190.40 259.42 190.26 258.72 190.15 258.01 C 190.04 257.31 189.96 257.11 189.89 255.91 C 189.82 254.71 189.71 252.50 189.73 250.81 C 189.75 249.12 189.91 247.42 190.01 245.76 C 190.11 244.11 190.15 242.58 190.35 240.87 C 190.54 239.17 190.83 237.28 191.19 235.53 C 191.54 233.78 191.99 232.12 192.46 230.38 C 192.93 228.64 193.48 226.85 194.01 225.08 C 194.55 223.30 195.11 221.49 195.66 219.74 C 196.22 218.00 196.77 216.29 197.35 214.59 C 197.93 212.89 198.53 211.18 199.13 209.54 C 199.73 207.90 200.34 206.34 200.96 204.77 C 201.59 203.20 202.21 201.66 202.86 200.12 C 203.51 198.57 204.16 197.02 204.85 195.48 C 205.54 193.94 206.24 192.41 206.97 190.88 C 207.71 189.35 208.48 187.84 209.28 186.31 C 210.08 184.79 210.93 183.25 211.78 181.72 C 212.64 180.20 213.51 178.67 214.40 177.16 C 215.28 175.64 216.17 174.13 217.09 172.62 C 218.00 171.12 218.93 169.60 219.87 168.11 C 220.82 166.63 221.78 165.16 222.77 163.71 C 223.75 162.27 224.75 160.84 225.76 159.45 C 226.77 158.06 227.77 156.72 228.81 155.38 C 229.86 154.03 230.93 152.69 232.03 151.36 C 233.13 150.04 234.26 148.73 235.42 147.45 C 236.57 146.16 237.75 144.90 238.96 143.64 C 240.17 142.39 241.41 141.14 242.65 139.91 C 243.89 138.68 245.15 137.45 246.40 136.25 C 247.66 135.05 248.90 133.85 250.19 132.68 C 251.48 131.52 252.78 130.37 254.14 129.27 C 255.49 128.16 256.88 127.08 258.32 126.05 C 259.75 125.02 261.25 124.01 262.75 123.09 C 264.26 122.16 265.80 121.29 267.34 120.49 C 268.88 119.68 270.42 118.99 271.99 118.28 C 273.57 117.58 275.16 116.93 276.79 116.25 C 278.42 115.58 280.10 114.90 281.78 114.26 C 283.46 113.63 285.18 113.00 286.86 112.46 C 288.54 111.92 290.19 111.45 291.85 111.03 C 293.52 110.60 295.18 110.24 296.87 109.92 C 298.57 109.61 300.28 109.34 302.01 109.12 C 303.73 108.90 305.49 108.72 307.22 108.59 C 308.96 108.46 310.71 108.36 312.43 108.33 C 314.15 108.30 315.85 108.31 317.54 108.41 C 319.22 108.50 320.88 108.67 322.53 108.90 C 324.18 109.14 325.81 109.45 327.46 109.83 C 329.11 110.22 330.78 110.67 332.44 111.20 C 334.09 111.73 335.77 112.33 337.40 113.00 C 339.03 113.67 340.64 114.42 342.22 115.24 C 343.79 116.06 345.35 116.96 346.86 117.90 C 348.37 118.83 349.85 119.83 351.28 120.87 C 352.72 121.91 354.12 122.99 355.45 124.15 C 356.79 125.32 358.09 126.57 359.28 127.87 C 360.47 129.17 361.56 130.55 362.60 131.97 C 363.64 133.40 364.61 134.89 365.54 136.40 C 366.47 137.90 367.37 139.48 368.20 141.00 C 369.03 142.53 369.80 144.05 370.52 145.56 C 371.24 147.08 371.89 148.56 372.51 150.09 C 373.13 151.63 373.71 153.20 374.25 154.78 C 374.79 156.36 375.29 157.96 375.76 159.56 C 376.22 161.15 376.65 162.74 377.06 164.36 C 377.47 165.99 377.86 167.64 378.22 169.30 C 378.58 170.97 378.92 172.65 379.22 174.33 C 379.53 176.01 379.80 177.69 380.04 179.38 C 380.28 181.08 380.49 182.79 380.67 184.50 C 380.85 186.20 380.99 187.93 381.12 189.61 C 381.25 191.30 381.36 193.01 381.46 194.62 C 381.56 196.23 381.65 197.77 381.72 199.27 C 381.79 200.78 381.85 202.10 381.89 203.64 C 381.93 205.18 381.95 206.80 381.97 208.52 C 381.99 210.24 381.99 212.25 381.99 213.95 C 381.99 215.65 381.99 217.20 381.98 218.72 C 381.98 220.23 381.97 221.56 381.96 223.03 C 381.95 224.51 381.93 226.00 381.92 227.57 C 381.90 229.14 381.89 230.77 381.87 232.43 C 381.85 234.10 381.83 235.83 381.81 237.58 C 381.80 239.33 381.78 241.13 381.76 242.96 C 381.74 244.78 381.72 246.65 381.70 248.52 C 381.68 250.39 381.66 252.33 381.65 254.17 C 381.63 256.01 381.62 257.86 381.60 259.58 C 381.59 261.30 381.57 262.87 381.55 264.47 C 381.54 266.07 381.52 267.59 381.49 269.18 C 381.47 270.77 381.45 272.36 381.42 273.99 C 381.40 275.61 381.37 277.26 381.34 278.92 C 381.32 280.58 381.29 282.27 381.27 283.96 C 381.24 285.65 381.22 287.36 381.20 289.08 C 381.18 290.79 381.16 292.52 381.14 294.25 C 381.13 295.98 381.12 297.71 381.11 299.44 C 381.10 301.18 381.10 302.91 381.10 304.64 C 381.11 306.37 381.11 308.10 381.13 309.81 C 381.15 311.52 381.17 313.23 381.20 314.93 C 381.23 316.62 381.27 318.31 381.32 319.99 C 381.36 321.66 381.42 323.33 381.49 325.00 C 381.55 326.67 381.62 328.33 381.70 330.00 C 381.78 331.67 381.87 333.33 381.97 335.00 C 382.06 336.67 382.16 338.33 382.26 340.00 C 382.37 341.67 382.48 343.33 382.59 345.00 C 382.70 346.67 382.82 348.33 382.94 350.00 C 383.05 351.67 383.17 353.33 383.29 355.00 C 383.41 356.67 383.53 358.33 383.65 360.00 C 383.77 361.67 383.90 363.33 384.01 365.00 C 384.13 366.67 384.25 368.33 384.36 370.00 C 384.47 371.67 384.58 373.34 384.69 374.99 C 384.79 376.65 384.90 378.32 385.00 379.92 C 385.10 381.53 385.19 383.11 385.29 384.62 C 385.39 386.13 385.49 387.58 385.59 388.99 C 385.69 390.40 385.79 391.74 385.89 393.08 C 385.99 394.42 386.09 395.72 386.19 397.04 C 386.29 398.36 386.39 399.65 386.48 400.99 C 386.58 402.33 386.68 403.68 386.77 405.09 C 386.87 406.50 386.96 407.93 387.05 409.46 C 387.14 410.99 387.23 412.56 387.32 414.25 C 387.40 415.94 387.49 417.70 387.57 419.59 C 387.65 421.49 387.73 423.51 387.80 425.63 C 387.87 427.75 387.94 430.13 388.00 432.31 C 388.07 434.49 388.12 436.82 388.16 438.72 C 388.21 440.61 388.24 442.15 388.27 443.68 C 388.29 445.21 388.31 446.49 388.34 447.93 C 388.36 449.36 388.38 450.80 388.40 452.31 C 388.42 453.82 388.44 455.38 388.46 456.97 C 388.47 458.57 388.49 460.21 388.51 461.89 C 388.53 463.56 388.54 465.28 388.56 467.03 C 388.58 468.77 388.59 470.55 388.61 472.36 C 388.62 474.17 388.64 476.00 388.65 477.86 C 388.66 479.72 388.68 481.60 388.69 483.50 C 388.70 485.40 388.72 487.32 388.73 489.25 C 388.74 491.18 388.75 493.13 388.76 495.09 C 388.77 497.04 388.78 499.01 388.79 500.98 C 388.80 502.94 388.81 504.92 388.82 506.89 C 388.83 508.87 388.84 510.84 388.85 512.81 C 388.86 514.78 388.87 516.74 388.87 518.70 C 388.88 520.65 388.89 522.60 388.90 524.53 C 388.90 526.46 388.91 528.38 388.92 530.27 C 388.93 532.17 388.93 534.05 388.94 535.91 C 388.95 537.76 388.95 539.60 388.96 541.40 C 388.96 543.20 388.97 544.98 388.98 546.72 C 388.98 548.47 388.99 550.18 388.99 551.85 C 389.00 553.52 389.00 555.16 389.01 556.75 C 389.01 558.34 389.02 559.90 389.02 561.40 C 389.03 562.90 389.03 564.36 389.04 565.77 C 389.04 567.17 389.05 568.53 389.05 569.83 C 389.06 571.13 389.06 572.28 389.07 573.57 C 389.07 574.85 389.08 575.81 389.09 577.53 C 389.09 579.25 389.10 581.61 389.11 583.91 C 389.11 586.22 389.11 589.55 389.11 591.34 C 389.11 593.13 389.09 593.68 389.10 594.64 C 389.12 595.60 389.13 595.93 389.19 597.10 C 389.24 598.27 389.32 600.04 389.43 601.67 C 389.54 603.30 389.58 605.14 389.85 606.86 C 390.11 608.58 390.78 611.03 391.02 611.97 C 391.26 612.90 391.25 612.41 391.30 612.50 C 392.02 612.40 393.97 612.11 395.62 611.88 C 397.28 611.64 399.39 611.35 401.22 611.10 C 403.06 610.85 404.87 610.60 406.62 610.37 C 408.37 610.15 410.03 609.94 411.72 609.73 C 413.42 609.52 415.09 609.33 416.78 609.14 C 418.47 608.95 420.16 608.77 421.87 608.60 C 423.57 608.43 425.27 608.26 427.01 608.12 C 428.74 607.98 430.53 607.85 432.29 607.76 C 434.04 607.66 435.79 607.60 437.53 607.55 C 439.28 607.50 441.00 607.47 442.74 607.46 C 444.49 607.45 446.27 607.45 448.00 607.48 C 449.74 607.52 451.45 607.56 453.15 607.67 C 454.86 607.77 456.56 607.90 458.23 608.09 C 459.90 608.28 461.56 608.52 463.19 608.81 C 464.82 609.09 466.39 609.42 468.02 609.81 C 469.64 610.19 471.27 610.63 472.91 611.11 C 474.56 611.59 476.24 612.13 477.89 612.71 C 479.54 613.29 481.21 613.93 482.81 614.59 C 484.41 615.25 485.96 615.95 487.49 616.67 C 489.01 617.40 490.48 618.14 491.96 618.94 C 493.44 619.74 494.91 620.59 496.34 621.48 C 497.78 622.38 499.20 623.33 500.58 624.30 C 501.95 625.28 503.27 626.29 504.60 627.35 C 505.92 628.41 507.22 629.51 508.52 630.65 C 509.82 631.78 511.13 632.98 512.40 634.17 C 513.66 635.35 514.90 636.55 516.12 637.76 C 517.33 638.97 518.50 640.16 519.67 641.40 C 520.84 642.63 522.01 643.89 523.15 645.15 C 524.30 646.42 525.43 647.70 526.55 648.99 C 527.66 650.28 528.74 651.58 529.82 652.90 C 530.90 654.22 531.97 655.58 533.01 656.93 C 534.05 658.29 535.08 659.67 536.07 661.05 C 537.06 662.42 538.01 663.79 538.96 665.19 C 539.90 666.59 540.81 668.00 541.72 669.46 C 542.63 670.93 543.53 672.45 544.40 673.97 C 545.26 675.49 546.10 677.06 546.93 678.59 C 547.75 680.13 548.53 681.65 549.35 683.18 C 550.17 684.71 550.99 686.25 551.83 687.79 C 552.66 689.33 553.54 690.88 554.35 692.44 C 555.15 694.00 555.95 695.55 556.65 697.15 C 557.34 698.75 557.97 700.39 558.52 702.06 C 559.07 703.73 559.54 705.47 559.95 707.20 C 560.37 708.92 560.72 710.67 561.01 712.39 C 561.30 714.12 561.54 715.84 561.69 717.56 C 561.85 719.28 561.95 720.99 561.96 722.70 C 561.98 724.40 561.91 726.10 561.80 727.79 C 561.69 729.48 561.52 731.16 561.30 732.85 C 561.08 734.54 560.83 736.23 560.49 737.90 C 560.15 739.57 559.76 741.25 559.26 742.88 C 558.76 744.50 558.18 746.09 557.50 747.64 C 556.83 749.19 556.05 750.70 555.21 752.18 C 554.36 753.66 553.43 755.11 552.43 756.52 C 551.44 757.92 550.37 759.29 549.24 760.62 C 548.11 761.95 546.90 763.25 545.66 764.50 C 544.41 765.76 543.08 766.98 541.75 768.13 C 540.42 769.27 539.06 770.36 537.67 771.37 C 536.29 772.39 534.91 773.32 533.47 774.22 C 532.03 775.13 530.54 775.98 529.03 776.81 C 527.52 777.63 525.96 778.42 524.42 779.16 C 522.87 779.91 521.34 780.60 519.77 781.27 C 518.20 781.94 516.62 782.58 515.00 783.19 C 513.38 783.81 511.70 784.42 510.04 784.98 C 508.38 785.55 506.70 786.10 505.05 786.60 C 503.41 787.10 501.81 787.56 500.18 788.01 C 498.55 788.45 496.94 788.87 495.30 789.27 C 493.66 789.66 491.99 790.05 490.34 790.41 C 488.69 790.76 487.02 791.10 485.38 791.42 C 483.75 791.73 482.12 792.03 480.54 792.29 C 478.95 792.56 477.44 792.81 475.88 793.03 C 474.32 793.25 472.83 793.44 471.19 793.62 C 469.55 793.80 467.79 793.95 466.06 794.09 C 464.32 794.22 462.41 794.34 460.79 794.43 C 459.17 794.53 457.72 794.59 456.32 794.65 C 454.93 794.70 453.74 794.74 452.44 794.78 C 451.14 794.81 449.88 794.84 448.51 794.86 C 447.14 794.89 445.75 794.91 444.24 794.92 C 442.72 794.94 441.15 794.95 439.42 794.96 C 437.68 794.97 435.83 794.98 433.84 794.98 C 431.85 794.99 429.59 794.99 427.48 794.99 C 425.37 795.00 423.09 795.00 421.21 795.00 C 419.32 795.00 417.75 795.00 416.16 795.00 C 414.57 795.00 413.20 794.99 411.66 794.99 C 410.11 794.99 408.53 794.99 406.88 794.98 C 405.22 794.98 403.49 794.97 401.73 794.97 C 399.96 794.96 398.13 794.95 396.28 794.95 C 394.42 794.94 392.52 794.93 390.59 794.92 C 388.67 794.91 386.71 794.91 384.74 794.90 C 382.77 794.89 380.78 794.88 378.79 794.87 C 376.80 794.86 374.80 794.85 372.81 794.84 C 370.82 794.83 368.83 794.82 366.86 794.81 C 364.90 794.80 362.94 794.79 361.03 794.78 C 359.11 794.77 357.21 794.76 355.36 794.75 C 353.51 794.74 351.69 794.73 349.94 794.72 C 348.18 794.71 346.47 794.70 344.82 794.69 C 343.18 794.68 341.59 794.67 340.09 794.67 C 338.58 794.66 337.15 794.65 335.80 794.64 C 334.45 794.64 333.18 794.63 331.99 794.62 C 330.80 794.62 329.48 794.61 328.65 794.61 C 327.82 794.60 327.27 794.60 327.00 794.60 L 327 789.9 C 420.56 790.20 422.02 790.18 423.33 790.17 C 424.64 790.16 426.24 790.16 427.85 790.15 C 429.47 790.14 431.20 790.13 433.00 790.12 C 434.80 790.11 436.74 790.10 438.65 790.08 C 440.57 790.07 442.57 790.05 444.48 790.03 C 446.40 790.00 448.32 789.98 450.15 789.95 C 451.97 789.91 453.68 789.88 455.42 789.83 C 457.17 789.78 458.83 789.72 460.61 789.64 C 462.38 789.56 464.30 789.46 466.08 789.35 C 467.85 789.23 469.61 789.10 471.26 788.95 C 472.91 788.80 474.41 788.63 475.97 788.43 C 477.53 788.23 479.03 788.01 480.62 787.75 C 482.22 787.49 483.87 787.19 485.54 786.87 C 487.20 786.54 488.93 786.17 490.61 785.78 C 492.29 785.39 493.98 784.96 495.64 784.52 C 497.29 784.08 498.92 783.62 500.55 783.13 C 502.19 782.63 503.82 782.12 505.45 781.56 C 507.07 781.01 508.72 780.42 510.32 779.81 C 511.93 779.20 513.51 778.56 515.06 777.91 C 516.62 777.25 518.13 776.58 519.66 775.86 C 521.19 775.15 522.72 774.41 524.24 773.63 C 525.75 772.86 527.28 772.04 528.75 771.21 C 530.21 770.37 531.64 769.52 533.04 768.60 C 534.45 767.69 535.82 766.74 537.16 765.73 C 538.51 764.71 539.87 763.63 541.13 762.50 C 542.40 761.38 543.64 760.22 544.78 758.98 C 545.93 757.75 547.00 756.46 548.00 755.09 C 549.00 753.72 549.93 752.27 550.77 750.78 C 551.61 749.29 552.37 747.74 553.04 746.14 C 553.70 744.54 554.29 742.87 554.78 741.18 C 555.28 739.48 555.67 737.68 556.01 735.96 C 556.36 734.25 556.62 732.53 556.84 730.88 C 557.05 729.24 557.24 727.68 557.30 726.08 C 557.35 724.48 557.31 722.90 557.17 721.29 C 557.03 719.67 556.77 718.07 556.48 716.40 C 556.19 714.74 555.83 713.02 555.44 711.30 C 555.04 709.58 554.61 707.80 554.12 706.08 C 553.63 704.37 553.10 702.67 552.50 701.02 C 551.90 699.36 551.23 697.75 550.53 696.15 C 549.83 694.56 549.06 693.00 548.31 691.44 C 547.55 689.87 546.77 688.32 546.02 686.78 C 545.27 685.23 544.54 683.69 543.81 682.16 C 543.08 680.62 542.38 679.09 541.63 677.57 C 540.88 676.04 540.11 674.50 539.30 673.00 C 538.48 671.50 537.63 670.01 536.73 668.56 C 535.84 667.11 534.91 665.69 533.95 664.28 C 532.99 662.87 531.99 661.48 530.97 660.10 C 529.95 658.72 528.90 657.35 527.83 656.00 C 526.75 654.65 525.66 653.32 524.54 651.99 C 523.41 650.67 522.23 649.35 521.06 648.06 C 519.88 646.77 518.66 645.50 517.46 644.26 C 516.26 643.02 515.06 641.83 513.84 640.62 C 512.62 639.42 511.39 638.21 510.13 637.02 C 508.88 635.83 507.60 634.61 506.30 633.47 C 505.01 632.33 503.70 631.22 502.36 630.18 C 501.01 629.13 499.63 628.15 498.22 627.21 C 496.80 626.27 495.36 625.39 493.88 624.55 C 492.41 623.70 490.91 622.90 489.39 622.13 C 487.87 621.36 486.33 620.62 484.74 619.92 C 483.15 619.22 481.52 618.55 479.88 617.93 C 478.24 617.31 476.55 616.73 474.90 616.21 C 473.25 615.68 471.59 615.22 469.96 614.80 C 468.33 614.39 466.74 614.03 465.12 613.72 C 463.50 613.41 461.89 613.16 460.24 612.96 C 458.58 612.75 456.88 612.61 455.19 612.51 C 453.49 612.41 451.80 612.37 450.08 612.35 C 448.35 612.33 446.59 612.36 444.85 612.40 C 443.11 612.44 441.35 612.50 439.61 612.58 C 437.87 612.66 436.15 612.74 434.40 612.86 C 432.65 612.97 430.85 613.11 429.10 613.27 C 427.36 613.43 425.63 613.61 423.91 613.81 C 422.19 614.01 420.50 614.23 418.79 614.46 C 417.09 614.69 415.38 614.94 413.69 615.20 C 411.99 615.46 410.32 615.72 408.63 616.00 C 406.93 616.27 405.24 616.56 403.53 616.85 C 401.82 617.13 400.05 617.50 398.36 617.68 C 396.68 617.87 394.96 618.13 393.42 617.94 C 391.88 617.75 390.29 617.35 389.11 616.54 C 387.93 615.72 387.03 614.41 386.36 613.04 C 385.69 611.67 385.39 609.95 385.09 608.33 C 384.79 606.71 384.70 604.97 384.58 603.32 C 384.45 601.68 384.39 599.81 384.33 598.47 C 384.27 597.13 384.24 596.18 384.22 595.29 C 384.21 594.39 384.23 594.45 384.23 593.09 C 384.23 591.73 384.24 589.35 384.23 587.11 C 384.23 584.87 384.21 581.68 384.19 579.66 C 384.18 577.65 384.17 576.42 384.15 575.04 C 384.14 573.65 384.13 572.63 384.12 571.36 C 384.11 570.09 384.10 568.79 384.09 567.43 C 384.08 566.07 384.06 564.65 384.05 563.18 C 384.04 561.72 384.03 560.20 384.01 558.64 C 384.00 557.09 383.99 555.48 383.97 553.84 C 383.96 552.20 383.94 550.51 383.93 548.80 C 383.92 547.09 383.90 545.33 383.89 543.55 C 383.87 541.77 383.85 539.96 383.84 538.12 C 383.82 536.29 383.81 534.42 383.79 532.54 C 383.77 530.66 383.76 528.76 383.74 526.84 C 383.72 524.92 383.71 522.98 383.69 521.04 C 383.67 519.09 383.65 517.13 383.63 515.17 C 383.62 513.21 383.60 511.23 383.58 509.26 C 383.56 507.29 383.54 505.31 383.52 503.34 C 383.50 501.37 383.48 499.40 383.46 497.44 C 383.44 495.48 383.42 493.52 383.40 491.58 C 383.38 489.64 383.36 487.70 383.34 485.79 C 383.32 483.88 383.30 481.98 383.28 480.10 C 383.26 478.23 383.23 476.37 383.21 474.54 C 383.19 472.71 383.17 470.91 383.15 469.14 C 383.13 467.37 383.10 465.62 383.08 463.92 C 383.06 462.21 383.04 460.54 383.01 458.91 C 382.99 457.28 382.97 455.69 382.94 454.15 C 382.92 452.60 382.90 451.11 382.87 449.65 C 382.85 448.19 382.83 446.86 382.80 445.39 C 382.77 443.93 382.75 442.61 382.71 440.87 C 382.68 439.14 382.63 437.11 382.58 435.00 C 382.53 432.90 382.47 430.43 382.41 428.25 C 382.35 426.07 382.29 423.91 382.22 421.92 C 382.16 419.93 382.09 418.08 382.03 416.31 C 381.96 414.55 381.89 412.90 381.82 411.32 C 381.75 409.73 381.68 408.25 381.61 406.80 C 381.54 405.34 381.46 403.97 381.39 402.61 C 381.32 401.24 381.24 399.93 381.16 398.61 C 381.09 397.29 381.01 396.00 380.93 394.67 C 380.85 393.35 380.77 392.03 380.69 390.65 C 380.61 389.27 380.53 387.88 380.45 386.41 C 380.37 384.94 380.28 383.41 380.20 381.84 C 380.11 380.27 380.03 378.62 379.93 376.98 C 379.84 375.34 379.75 373.66 379.65 372.00 C 379.55 370.34 379.44 368.67 379.34 367.00 C 379.23 365.33 379.12 363.67 379.01 362.00 C 378.90 360.33 378.79 358.67 378.68 357.00 C 378.57 355.33 378.45 353.67 378.34 352.00 C 378.23 350.33 378.12 348.67 378.01 347.00 C 377.90 345.33 377.80 343.67 377.69 342.00 C 377.59 340.33 377.49 338.67 377.39 337.00 C 377.30 335.33 377.21 333.67 377.12 332.00 C 377.03 330.33 376.95 328.67 376.88 327.00 C 376.81 325.33 376.74 323.67 376.68 321.99 C 376.62 320.32 376.57 318.65 376.52 316.96 C 376.47 315.27 376.43 313.57 376.39 311.86 C 376.36 310.16 376.32 308.44 376.29 306.71 C 376.26 304.99 376.24 303.26 376.22 301.52 C 376.20 299.79 376.18 298.06 376.17 296.33 C 376.15 294.59 376.14 292.86 376.14 291.14 C 376.13 289.42 376.13 287.70 376.13 286.00 C 376.12 284.30 376.13 282.60 376.13 280.93 C 376.14 279.25 376.14 277.59 376.15 275.95 C 376.16 274.31 376.17 272.68 376.18 271.09 C 376.20 269.49 376.21 267.94 376.23 266.35 C 376.24 264.77 376.26 263.25 376.29 261.59 C 376.31 259.93 376.34 258.19 376.38 256.39 C 376.42 254.59 376.47 252.65 376.53 250.78 C 376.58 248.91 376.65 247.01 376.72 245.16 C 376.79 243.32 376.87 241.49 376.95 239.71 C 377.02 237.92 377.11 236.17 377.19 234.46 C 377.27 232.76 377.35 231.09 377.42 229.48 C 377.50 227.87 377.57 226.31 377.64 224.81 C 377.71 223.30 377.77 221.92 377.82 220.44 C 377.87 218.97 377.92 217.59 377.95 215.97 C 377.98 214.34 378.01 212.44 378.01 210.69 C 378.02 208.95 378.00 207.10 377.96 205.48 C 377.92 203.87 377.85 202.51 377.77 201.02 C 377.69 199.53 377.59 198.10 377.49 196.53 C 377.38 194.97 377.26 193.30 377.13 191.64 C 377.00 189.97 376.86 188.25 376.69 186.55 C 376.52 184.84 376.33 183.13 376.12 181.41 C 375.90 179.69 375.66 177.97 375.39 176.23 C 375.12 174.49 374.83 172.73 374.51 170.99 C 374.19 169.24 373.85 167.48 373.47 165.76 C 373.09 164.04 372.69 162.35 372.23 160.69 C 371.76 159.02 371.25 157.38 370.68 155.76 C 370.11 154.14 369.47 152.54 368.79 150.99 C 368.12 149.43 367.39 147.94 366.62 146.44 C 365.86 144.93 365.05 143.46 364.20 141.97 C 363.34 140.48 362.44 138.96 361.50 137.51 C 360.57 136.05 359.62 134.61 358.60 133.24 C 357.58 131.86 356.55 130.54 355.38 129.28 C 354.22 128.02 352.94 126.79 351.60 125.67 C 350.27 124.56 348.83 123.54 347.36 122.57 C 345.89 121.60 344.33 120.70 342.77 119.87 C 341.21 119.03 339.58 118.26 337.99 117.58 C 336.40 116.89 334.82 116.29 333.23 115.76 C 331.63 115.22 330.04 114.76 328.43 114.37 C 326.82 113.97 325.22 113.64 323.58 113.38 C 321.94 113.12 320.27 112.92 318.59 112.79 C 316.90 112.66 315.19 112.60 313.47 112.60 C 311.75 112.59 310.01 112.65 308.27 112.75 C 306.53 112.86 304.78 113.00 303.05 113.21 C 301.32 113.41 299.59 113.67 297.89 113.99 C 296.20 114.31 294.51 114.69 292.86 115.12 C 291.20 115.56 289.58 116.05 287.96 116.58 C 286.34 117.12 284.72 117.72 283.13 118.34 C 281.54 118.96 279.98 119.63 278.43 120.30 C 276.87 120.96 275.35 121.64 273.81 122.36 C 272.26 123.07 270.72 123.79 269.18 124.60 C 267.65 125.41 266.10 126.27 264.58 127.21 C 263.06 128.14 261.53 129.17 260.06 130.21 C 258.60 131.26 257.17 132.36 255.78 133.47 C 254.39 134.58 253.06 135.72 251.74 136.88 C 250.43 138.04 249.17 139.21 247.91 140.41 C 246.64 141.61 245.40 142.83 244.15 144.07 C 242.90 145.31 241.65 146.58 240.42 147.86 C 239.19 149.15 237.96 150.45 236.77 151.77 C 235.59 153.09 234.42 154.43 233.29 155.79 C 232.15 157.15 231.05 158.53 229.99 159.94 C 228.93 161.35 227.91 162.77 226.93 164.22 C 225.95 165.67 225.02 167.15 224.12 168.64 C 223.22 170.13 222.37 171.64 221.53 173.16 C 220.69 174.69 219.90 176.24 219.08 177.78 C 218.26 179.33 217.45 180.88 216.63 182.43 C 215.81 183.98 214.98 185.53 214.18 187.09 C 213.38 188.65 212.60 190.21 211.85 191.76 C 211.11 193.31 210.41 194.85 209.71 196.40 C 209.02 197.95 208.36 199.49 207.69 201.05 C 207.02 202.60 206.35 204.13 205.69 205.71 C 205.04 207.29 204.37 208.88 203.75 210.53 C 203.12 212.18 202.52 213.90 201.97 215.61 C 201.41 217.32 200.91 219.03 200.41 220.79 C 199.92 222.55 199.43 224.39 198.97 226.16 C 198.51 227.93 198.06 229.67 197.66 231.41 C 197.26 233.15 196.86 234.85 196.56 236.60 C 196.25 238.34 196.00 240.17 195.81 241.87 C 195.63 243.57 195.55 245.15 195.46 246.81 C 195.38 248.48 195.31 250.54 195.30 251.87 C 195.29 253.21 195.36 254.00 195.42 254.81 C 195.48 255.63 195.55 256.12 195.66 256.77 C 195.76 257.41 195.89 258.05 196.05 258.68 C 196.21 259.31 196.40 259.93 196.61 260.55 C 196.81 261.17 197.03 261.77 197.27 262.39 C 197.51 263.01 197.78 263.64 198.06 264.28 C 198.34 264.92 198.64 265.58 198.94 266.21 C 199.24 266.85 199.54 267.47 199.86 268.10 C 200.19 268.73 200.52 269.34 200.87 269.97 C 201.22 270.59 201.59 271.24 201.94 271.86 C 202.30 272.48 202.65 273.10 202.98 273.70 C 203.31 274.30 203.60 274.84 203.94 275.48 C 204.27 276.12 204.66 276.88 204.98 277.54 C 205.31 278.21 205.62 278.84 205.88 279.48 C 206.15 280.12 206.39 280.79 206.58 281.37 C 206.77 281.95 206.92 282.42 207.04 282.97 C 207.17 283.52 207.24 283.94 207.31 284.64 C 207.39 285.34 207.44 286.43 207.48 287.16 C 207.52 287.88 207.54 288.37 207.56 288.98 C 207.58 289.59 207.59 290.17 207.60 290.82 C 207.62 291.47 207.63 292.17 207.64 292.88 C 207.65 293.59 207.66 294.34 207.67 295.08 C 207.68 295.83 207.68 296.60 207.69 297.36 C 207.69 298.12 207.70 298.90 207.70 299.65 C 207.70 300.40 207.70 301.15 207.70 301.87 C 207.70 302.60 207.70 303.29 207.70 303.99 C 207.70 304.69 207.70 304.89 207.69 306.05 C 207.68 307.20 207.67 309.31 207.64 310.93 C 207.61 312.55 207.57 314.27 207.53 315.76 C 207.49 317.24 207.43 318.71 207.38 319.82 C 207.34 320.93 207.30 321.52 207.24 322.41 C 207.19 323.31 207.14 323.75 207.06 325.18 C 206.98 326.61 206.88 328.79 206.78 331.00 C 206.68 333.21 206.55 336.36 206.46 338.47 C 206.38 340.59 206.32 342.18 206.26 343.70 C 206.20 345.21 206.17 346.25 206.12 347.56 C 206.07 348.87 206.02 350.17 205.97 351.56 C 205.92 352.95 205.86 354.40 205.81 355.90 C 205.75 357.39 205.69 358.95 205.63 360.54 C 205.57 362.13 205.51 363.78 205.45 365.45 C 205.39 367.13 205.32 368.85 205.26 370.60 C 205.19 372.35 205.13 374.14 205.06 375.95 C 204.99 377.77 204.92 379.61 204.85 381.47 C 204.79 383.33 204.72 385.22 204.65 387.12 C 204.58 389.02 204.51 390.94 204.44 392.87 C 204.37 394.79 204.30 396.74 204.23 398.68 C 204.16 400.62 204.09 402.57 204.02 404.51 C 203.95 406.46 203.88 408.41 203.81 410.34 C 203.74 412.28 203.67 414.21 203.61 416.13 C 203.54 418.05 203.47 419.96 203.41 421.84 C 203.34 423.73 203.28 425.60 203.22 427.44 C 203.15 429.29 203.09 431.11 203.03 432.90 C 202.97 434.69 202.91 436.45 202.86 438.17 C 202.80 439.89 202.75 441.59 202.70 443.23 C 202.64 444.88 202.59 446.48 202.55 448.04 C 202.50 449.60 202.45 451.08 202.41 452.57 C 202.37 454.07 202.33 455.41 202.28 456.99 C 202.24 458.57 202.20 460.22 202.15 462.04 C 202.10 463.86 202.04 466.01 201.99 467.93 C 201.93 469.86 201.88 471.83 201.83 473.60 C 201.78 475.37 201.74 477.00 201.69 478.55 C 201.65 480.11 201.62 481.53 201.58 482.93 C 201.55 484.33 201.52 485.62 201.50 486.93 C 201.48 488.24 201.46 489.48 201.44 490.76 C 201.43 492.05 201.42 493.31 201.41 494.64 C 201.41 495.97 201.41 497.31 201.42 498.76 C 201.42 500.22 201.43 501.71 201.45 503.35 C 201.46 504.98 201.49 506.74 201.51 508.59 C 201.54 510.44 201.57 512.54 201.60 514.46 C 201.64 516.38 201.67 518.39 201.71 520.11 C 201.74 521.82 201.77 523.27 201.80 524.78 C 201.84 526.29 201.87 527.67 201.91 529.17 C 201.95 530.66 201.99 532.19 202.03 533.77 C 202.07 535.35 202.12 536.98 202.17 538.64 C 202.22 540.29 202.27 542.00 202.32 543.73 C 202.37 545.46 202.43 547.23 202.48 549.02 C 202.54 550.81 202.60 552.63 202.66 554.47 C 202.72 556.30 202.78 558.17 202.84 560.05 C 202.91 561.92 202.97 563.82 203.03 565.72 C 203.10 567.63 203.17 569.55 203.23 571.47 C 203.30 573.39 203.36 575.32 203.43 577.24 C 203.50 579.17 203.57 581.10 203.63 583.02 C 203.70 584.94 203.77 586.86 203.84 588.76 C 203.91 590.67 203.97 592.57 204.04 594.44 C 204.11 596.32 204.17 598.18 204.24 600.02 C 204.30 601.86 204.37 603.68 204.43 605.47 C 204.50 607.26 204.56 609.03 204.62 610.76 C 204.68 612.49 204.74 614.19 204.80 615.85 C 204.86 617.51 204.92 619.14 204.97 620.72 C 205.02 622.30 205.08 623.84 205.13 625.32 C 205.18 626.81 205.23 628.25 205.27 629.63 C 205.32 631.02 205.36 632.29 205.40 633.64 C 205.45 635.00 205.48 636.10 205.53 637.76 C 205.58 639.42 205.63 641.34 205.69 643.61 C 205.75 645.88 205.83 648.99 205.88 651.38 C 205.93 653.78 205.98 656.17 206.00 657.99 C 206.03 659.81 206.03 661.09 206.04 662.29 C 206.04 663.49 206.03 664.37 206.02 665.19 C 206.01 666.00 206.00 666.65 206.00 667.16 C 206.00 667.67 205.99 667.83 206.00 668.24 C 206.00 668.65 206.00 669.03 206.00 669.62 C 206.00 670.21 206.01 670.98 206.02 671.78 C 206.03 672.58 206.05 673.63 206.06 674.44 C 206.07 675.25 206.08 675.99 206.09 676.64 C 206.09 677.29 206.10 677.82 206.09 678.35 C 206.09 678.88 206.09 679.29 206.07 679.80 C 206.05 680.30 206.03 680.75 205.99 681.38 C 205.94 682.01 205.90 682.94 205.78 683.59 C 205.67 684.24 205.55 684.75 205.30 685.28 C 205.06 685.82 204.72 686.33 204.33 686.81 C 203.93 687.29 203.44 687.72 202.93 688.17 C 202.43 688.62 201.83 689.07 201.27 689.51 C 200.71 689.95 200.16 690.39 199.58 690.82 C 199.00 691.26 198.39 691.67 197.79 692.10 C 197.19 692.53 196.55 692.96 195.98 693.40 C 195.41 693.85 194.90 694.25 194.37 694.77 C 193.84 695.28 193.27 695.88 192.81 696.47 C 192.35 697.05 191.95 697.64 191.60 698.27 C 191.26 698.89 190.97 699.54 190.74 700.21 C 190.51 700.88 190.35 701.59 190.23 702.29 C 190.11 702.99 190.05 703.70 190.02 704.40 C 189.99 705.09 190.00 705.78 190.06 706.48 C 190.13 707.17 190.25 707.88 190.41 708.55 C 190.58 709.22 190.80 709.86 191.05 710.48 C 191.30 711.10 191.56 711.68 191.89 712.27 C 192.22 712.87 192.60 713.48 193.03 714.04 C 193.45 714.59 193.92 715.12 194.44 715.62 C 194.95 716.12 195.53 716.57 196.12 717.04 C 196.70 717.51 197.35 717.96 197.95 718.41 C 198.55 718.85 199.12 719.28 199.73 719.71 C 200.34 720.15 200.99 720.60 201.61 721.02 C 202.22 721.44 202.86 721.83 203.41 722.25 C 203.96 722.67 204.46 723.07 204.91 723.54 C 205.36 724.02 205.78 724.46 206.09 725.10 C 206.39 725.74 206.59 726.69 206.74 727.38 C 206.89 728.07 206.93 728.60 207.00 729.24 C 207.07 729.88 207.12 730.52 207.17 731.21 C 207.23 731.91 207.27 732.66 207.31 733.40 C 207.35 734.15 207.39 734.93 207.41 735.68 C 207.44 736.43 207.46 737.17 207.47 737.90 C 207.48 738.63 207.53 738.80 207.48 740.06 C 207.43 741.33 207.31 743.71 207.18 745.49 C 207.05 747.27 206.87 749.01 206.68 750.74 C 206.50 752.48 206.33 754.21 206.09 755.92 C 205.85 757.62 205.55 759.30 205.25 760.97 C 204.96 762.65 204.53 764.29 204.30 765.96 C 204.07 767.62 203.85 769.30 203.89 770.96 C 203.94 772.62 204.12 774.32 204.58 775.90 C 205.04 777.48 205.74 779.06 206.67 780.44 C 207.60 781.82 208.84 783.12 210.16 784.20 C 211.49 785.28 213.12 786.18 214.62 786.91 C 216.13 787.65 217.70 788.18 219.18 788.60 C 220.66 789.02 221.94 789.23 223.53 789.43 C 225.11 789.63 226.94 789.71 228.68 789.79 C 230.42 789.87 232.24 789.90 233.97 789.93 C 235.70 789.96 237.29 789.96 239.07 789.97 C 240.85 789.98 242.72 789.98 244.64 789.98 C 246.56 789.98 248.61 789.98 250.61 789.98 C 252.60 789.97 254.67 789.97 256.60 789.96 C 258.54 789.95 260.46 789.94 262.24 789.94 C 264.01 789.93 265.74 789.92 267.25 789.92 C 268.77 789.91 270.45 789.90 271.33 789.90 C 272.20 789.90 272.30 789.90 272.50 789.90 A 2.35 2.35 0 0 0 272.5 794.6 Z" fill="#2B2A29" stroke="#2B2A29" stroke-width="0.5" stroke-linejoin="round"/><g fill="#2B2A29"><circle cx="327.2" cy="792.25" r="2.35"/></g>
<path d="M 271.00 792.30 C 270.32 792.43 268.50 792.77 266.91 793.09 C 265.32 793.41 263.27 793.81 261.46 794.23 C 259.65 794.64 257.79 795.09 256.05 795.58 C 254.32 796.07 252.67 796.60 251.06 797.17 C 249.45 797.74 247.92 798.36 246.37 798.99 C 244.81 799.63 243.29 800.31 241.74 800.99 C 240.19 801.67 238.64 802.38 237.09 803.10 C 235.53 803.83 233.96 804.56 232.41 805.34 C 230.85 806.11 229.28 806.92 227.77 807.76 C 226.25 808.60 224.76 809.48 223.31 810.38 C 221.86 811.28 220.47 812.21 219.07 813.16 C 217.67 814.12 216.28 815.12 214.90 816.12 C 213.52 817.12 212.14 818.14 210.78 819.16 C 209.43 820.17 208.10 821.18 206.78 822.20 C 205.45 823.22 204.15 824.24 202.84 825.28 C 201.53 826.32 200.23 827.38 198.93 828.45 C 197.63 829.52 196.33 830.61 195.04 831.72 C 193.75 832.83 192.47 833.96 191.20 835.10 C 189.92 836.24 188.64 837.42 187.38 838.57 C 186.11 839.72 184.88 840.87 183.60 842.00 C 182.32 843.13 181.05 844.24 179.71 845.37 C 178.37 846.50 176.94 847.67 175.54 848.77 C 174.14 849.87 172.74 850.96 171.32 851.97 C 169.90 852.98 168.51 853.94 167.03 854.85 C 165.55 855.75 164.01 856.60 162.43 857.39 C 160.85 858.18 159.28 858.89 157.57 859.60 C 155.85 860.31 153.30 861.22 152.12 861.66 C 150.94 862.09 150.77 862.11 150.50 862.20 C 149.5 858, 146 853.6, 140.5 853.6 C 134.5 853.6, 131.2 858.5, 131.2 864 C 131.2 871, 137 877, 146 877 L 456 877 C 465 877, 470.8 871, 470.8 864 C 470.8 858.5, 467.5 853.6, 461.5 853.6 C 456 853.6, 452.5 858, 451.5 862.2 C 450.65 861.90 448.07 861.05 446.40 860.39 C 444.73 859.73 443.07 858.99 441.47 858.22 C 439.88 857.45 438.34 856.61 436.83 855.76 C 435.32 854.92 433.91 854.05 432.43 853.15 C 430.94 852.24 429.43 851.30 427.91 850.32 C 426.39 849.34 424.81 848.31 423.31 847.27 C 421.81 846.23 420.35 845.18 418.94 844.09 C 417.52 843.01 416.17 841.90 414.84 840.77 C 413.50 839.64 412.20 838.48 410.90 837.32 C 409.60 836.16 408.32 834.98 407.04 833.82 C 405.76 832.66 404.49 831.51 403.23 830.36 C 401.97 829.21 400.73 828.06 399.49 826.92 C 398.24 825.78 397.01 824.63 395.76 823.51 C 394.51 822.39 393.27 821.29 391.99 820.21 C 390.71 819.12 389.41 818.06 388.07 817.01 C 386.73 815.97 385.34 814.93 383.96 813.93 C 382.58 812.94 381.19 811.97 379.79 811.04 C 378.38 810.10 376.98 809.20 375.52 808.32 C 374.06 807.43 372.56 806.56 371.04 805.73 C 369.52 804.90 367.97 804.10 366.41 803.34 C 364.86 802.57 363.30 801.85 361.72 801.15 C 360.14 800.45 358.55 799.78 356.93 799.14 C 355.31 798.50 353.68 797.88 352.02 797.32 C 350.35 796.75 348.68 796.23 346.94 795.76 C 345.20 795.29 343.40 794.88 341.57 794.51 C 339.75 794.13 337.82 793.82 335.99 793.52 C 334.16 793.23 332.00 792.94 330.59 792.73 C 329.17 792.53 328.01 792.37 327.50 792.30" fill="none" stroke="#2B2A29" stroke-width="4.7" stroke-linecap="round" stroke-linejoin="round"/>
<path d="M 146 877 C 175 873, 205 863, 235 853 C 260 845, 280 840.2, 301 840.2 C 322 840.2, 342 845, 367 853 C 397 863, 427 873, 456 877" fill="none" stroke="#2B2A29" stroke-width="4.5" stroke-linecap="round"/>
<ellipse cx="550.9" cy="706.9" rx="9.15" ry="17.6" fill="#FEFEFE" stroke="#2B2A29" stroke-width="3.3"/>
<ellipse cx="550.7" cy="706.4" rx="2.9" ry="7.9" fill="#2B2A29"/>
<path d="M 676 706.4 H 688.4 A 20 20 0 0 1 708.4 726.4 V 897.3 A 20 20 0 0 1 688.4 917.3 H 215.5 A 38.35 38.35 0 0 0 215.5 994.0 H 576" fill="none" stroke="#2B2A29" stroke-width="14.3"/>
<path d="M 676 706.4 H 688.4 A 20 20 0 0 1 708.4 726.4 V 897.3 A 20 20 0 0 1 688.4 917.3 H 215.5 A 38.35 38.35 0 0 0 215.5 994.0 H 576" fill="none" stroke="#FEFEFE" stroke-width="7.5"/>
<path d="M 606 699.9 H 575.8 A 7.15 7.15 0 0 0 575.8 714.2 H 606" fill="#FEFEFE" stroke="#2B2A29" stroke-width="3.1"/>
<path d="M 607.9 694.2 H 669.2 Q 672.7 694.2 672.7 697.7 V 698.1 Q 672.7 699.1 673.7 699.1 H 675.6 Q 677.1 699.1 677.1 700.6 V 713.6 Q 677.1 715.1 675.6 715.1 H 673.7 Q 672.7 715.1 672.7 716.1 V 716.8 Q 672.7 720.3 669.2 720.3 H 607.9 Q 604.4 720.3 604.4 716.8 V 697.7 Q 604.4 694.2 607.9 694.2 Z" fill="#FEFEFE" stroke="#2B2A29" stroke-width="3.2" stroke-linejoin="round"/>
<rect x="647.3" y="976.3" width="35.9" height="37" fill="#FEFEFE" stroke="#2B2A29" stroke-width="3.1"/>
<path d="M 587.2 969.5 H 641.3 Q 647.3 969.5 647.3 975.5 V 1013.2 Q 647.3 1019.2 641.3 1019.2 H 587.2 Q 581.2 1019.2 581.2 1013.2 Q 581.2 1011.7 579.7 1011.7 H 578.2 Q 575.7 1011.7 575.7 1009.2 V 980.2 Q 575.7 977.7 578.2 977.7 H 579.7 Q 581.2 977.7 581.2 975.5 Q 581.2 969.5 587.2 969.5 Z" fill="#FEFEFE" stroke="#2B2A29" stroke-width="3.4" stroke-linejoin="round"/>
<rect x="663.1" y="983.3" width="6.6" height="6.6" fill="#2B2A29"/><rect x="663.1" y="1000" width="6.6" height="6.6" fill="#2B2A29"/>
<path d="M 420.5 63.2 H 678.8 A 10 10 0 0 1 688.8 73.2 V 144.10000000000002 A 10 10 0 0 1 678.8 154.10000000000002 H 420.5 A 10 10 0 0 1 410.5 144.10000000000002 V 113.7 L 305.4 135.5 L 410.5 86.1 V 73.2 A 10 10 0 0 1 420.5 63.2 Z" fill="#FDFDFD" stroke="#2B2A29" stroke-width="1.35" stroke-linejoin="miter"/>
<path d="M 420.5 194.7 H 678.8 A 10 10 0 0 1 688.8 204.7 V 256.6 A 10 10 0 0 1 678.8 266.6 H 420.5 A 10 10 0 0 1 410.5 256.6 V 245.2 L 305.4 267.0 L 410.5 217.6 V 204.7 A 10 10 0 0 1 420.5 194.7 Z" fill="#FDFDFD" stroke="#2B2A29" stroke-width="1.35" stroke-linejoin="miter"/>
<path d="M 420.5 361.2 H 678.8 A 10 10 0 0 1 688.8 371.2 V 438.4 A 10 10 0 0 1 678.8 448.4 H 420.5 A 10 10 0 0 1 410.5 438.4 V 411.7 L 305.4 433.5 L 410.5 384.09999999999997 V 371.2 A 10 10 0 0 1 420.5 361.2 Z" fill="#FDFDFD" stroke="#2B2A29" stroke-width="1.35" stroke-linejoin="miter"/>
<path d="M 420.5 497.5 H 678.8 A 10 10 0 0 1 688.8 507.5 V 559.7 A 10 10 0 0 1 678.8 569.7 H 420.5 A 10 10 0 0 1 410.5 559.7 V 548.0 L 305.4 569.8 L 410.5 520.4 V 507.5 A 10 10 0 0 1 420.5 497.5 Z" fill="#FDFDFD" stroke="#2B2A29" stroke-width="1.35" stroke-linejoin="miter"/>
<text x="465.5" y="95.6" font-size="24" font-weight="normal" text-anchor="start" fill="#2B2A29" textLength="169.5" lengthAdjust="spacingAndGlyphs" stroke="#FDFDFD" stroke-width="0.45">сверх мягкая</text>
<text x="439.3" y="115.9" font-size="24" font-weight="normal" text-anchor="start" fill="#2B2A29" textLength="220" lengthAdjust="spacingAndGlyphs" stroke="#FDFDFD" stroke-width="0.45">оболочка из ТЭП</text>
<text x="484.5" y="136.4" font-size="24" font-weight="normal" text-anchor="start" fill="#2B2A29" textLength="131.5" lengthAdjust="spacingAndGlyphs" stroke="#FDFDFD" stroke-width="0.45">НЕОСКИН</text>
<text x="506.6" y="226.8" font-size="24" font-weight="normal" text-anchor="start" fill="#2B2A29" textLength="86.8" lengthAdjust="spacingAndGlyphs" stroke="#FDFDFD" stroke-width="0.45">мягкая</text>
<text x="458" y="247.3" font-size="24" font-weight="normal" text-anchor="start" fill="#2B2A29" textLength="182.6" lengthAdjust="spacingAndGlyphs" stroke="#FDFDFD" stroke-width="0.45">гелевая масса</text>
<text x="477.4" y="392.0" font-size="24.8" font-weight="bold" text-anchor="start" fill="#2B2A29" textLength="146.3" lengthAdjust="spacingAndGlyphs" stroke="#2B2A29" stroke-width="0.7" stroke-linejoin="round">ВИБРАТОР</text>
<text x="470" y="412.3" font-size="24" font-weight="normal" text-anchor="start" fill="#2B2A29" textLength="159" lengthAdjust="spacingAndGlyphs" stroke="#FDFDFD" stroke-width="0.45">микромотор</text>
<text x="447.9" y="432.6" font-size="24" font-weight="normal" text-anchor="start" fill="#2B2A29" textLength="203.5" lengthAdjust="spacingAndGlyphs" stroke="#FDFDFD" stroke-width="0.45">с эксцентриком</text>
<text x="514.1" y="531.0" font-size="25" font-weight="bold" text-anchor="start" fill="#2B2A29" textLength="71.8" lengthAdjust="spacingAndGlyphs" stroke="#2B2A29" stroke-width="0.7" stroke-linejoin="round">Li-ion</text>
<text x="487.2" y="552.8" font-size="24.8" font-weight="bold" text-anchor="start" fill="#2B2A29" textLength="124.9" lengthAdjust="spacingAndGlyphs" stroke="#2B2A29" stroke-width="0.7" stroke-linejoin="round">БАТАРЕЯ</text>
<text x="556.2" y="612.1" font-size="24.2" font-weight="bold" text-anchor="start" fill="#2B2A29" textLength="134.2" lengthAdjust="spacingAndGlyphs" stroke="#2B2A29" stroke-width="0.7" stroke-linejoin="round">отверстие</text>
<text x="556.2" y="634.1" font-size="24.2" font-weight="bold" text-anchor="start" fill="#2B2A29" textLength="162.1" lengthAdjust="spacingAndGlyphs" stroke="#2B2A29" stroke-width="0.7" stroke-linejoin="round">для зарядки</text>
<polygon points="570.3,689.9 579.9,659.5 583.5,662.9 604.2,644 628.2,644 597.5,677.3 601.4,681.9" fill="#E31E24"/>
<text x="93.6" y="652.2" font-size="24.2" font-weight="bold" text-anchor="start" fill="#2B2A29" textLength="57.9" lengthAdjust="spacingAndGlyphs" stroke="#2B2A29" stroke-width="0.7" stroke-linejoin="round">ВКЛ</text>
<rect x="71.9" y="655.4" width="103.3" height="2.1" fill="#2B2A29"/>
<text x="80.4" y="679.0" font-size="24.2" font-weight="bold" text-anchor="start" fill="#2B2A29" textLength="84.8" lengthAdjust="spacingAndGlyphs" stroke="#2B2A29" stroke-width="0.7" stroke-linejoin="round">ВЫКЛ</text>
<polygon points="76.9,697.8 142.8,697.8 142.8,690.3 171.4,706.8 142.8,722.7 142.8,715.2 76.9,715.2" fill="#E31E24"/>
<text x="242.8" y="827.4" font-size="25.2" font-weight="normal" text-anchor="start" fill="#2B2A29" textLength="120.8" lengthAdjust="spacingAndGlyphs" stroke="#FDFDFD" stroke-width="0.45">присоска</text>
<text x="490.4" y="844.8" font-size="24.5" font-weight="bold" text-anchor="start" fill="#2B2A29" textLength="191.2" lengthAdjust="spacingAndGlyphs" stroke="#2B2A29" stroke-width="0.7" stroke-linejoin="round">USB-ЗАРЯДКА</text>
<text x="508.6" y="873.5" font-size="25.8" font-weight="normal" text-anchor="start" fill="#2B2A29" textLength="157.6" lengthAdjust="spacingAndGlyphs" stroke="#FDFDFD" stroke-width="0.45">в комплекте</text>
<text transform="translate(284.4 1078.4) scale(1.0 1)" x="0" y="0" font-size="35" text-anchor="middle" fill="#D0D0D0" stroke="#D0D0D0" stroke-width="1.1">K</text>
<text transform="translate(315.2 1078.4) scale(1.15 1)" x="0" y="0" font-size="35" text-anchor="middle" fill="#D0D0D0" stroke="#D0D0D0" stroke-width="1.1">A</text>
<text transform="translate(347.6 1078.4) scale(1.04 1)" x="0" y="0" font-size="35" text-anchor="middle" fill="#D0D0D0" stroke="#D0D0D0" stroke-width="1.1">Z</text>
<text transform="translate(379.8 1078.4) scale(1.15 1)" x="0" y="0" font-size="35" text-anchor="middle" fill="#D0D0D0" stroke="#D0D0D0" stroke-width="1.1">A</text>
<text transform="translate(413.6 1078.4) scale(1.07 1)" x="0" y="0" font-size="35" text-anchor="middle" fill="#D0D0D0" stroke="#D0D0D0" stroke-width="1.1">N</text>
<text transform="translate(445.8 1078.4) scale(1.07 1)" x="0" y="0" font-size="35" text-anchor="middle" fill="#D0D0D0" stroke="#D0D0D0" stroke-width="1.1">O</text>
<text transform="translate(481 1078.4) scale(1.15 1)" x="0" y="0" font-size="35" text-anchor="middle" fill="#D0D0D0" stroke="#D0D0D0" stroke-width="1.1">V</text>
<text transform="translate(515.2 1078.4) scale(1.15 1)" x="0" y="0" font-size="35" text-anchor="middle" fill="#D0D0D0" stroke="#D0D0D0" stroke-width="1.1">A</text>
<path d="M 374 1011.2 C 379 1012, 387 1010.5, 394 1008.8 C 397 1008.2, 399 1008.2, 400.7 1008.2 L 400.7 1039.1 L 395 1030 C 392 1029, 388 1030.6, 384 1030.4 C 380 1029, 377 1024, 376 1019 Z" fill="#D0D0D0"/>
<path d="M 427.8 1011.8 C 422 1012.5, 414 1010.5, 407 1008.8 C 404 1008.2, 402 1008.2, 400.7 1008.2 L 400.7 1039.1 L 407.5 1029.2 C 410 1028.4, 414 1030.6, 418 1029.6 C 422 1027.5, 425.5 1021, 427.8 1011.8 Z" fill="#EDEDED" stroke="#E2E2E2" stroke-width="0.6"/>
<path d="M 384.7 1018.5 C 388 1018.6, 392 1019.6, 395.4 1020.5 C 394.5 1023, 392.5 1024.5, 391 1024.2 C 388.5 1023.5, 386 1021, 384.7 1018.5 Z" fill="#FEFEFE"/>
<path d="M 417.4 1018.3 C 413.5 1018.6, 409.5 1019.6, 406.1 1020.5 C 407 1023, 409.5 1024.7, 411 1024.4 C 413.5 1023.5, 416 1021, 417.4 1018.3 Z" fill="#FEFEFE" stroke="#DDDDDD" stroke-width="0.7"/>
</svg></body></html>
